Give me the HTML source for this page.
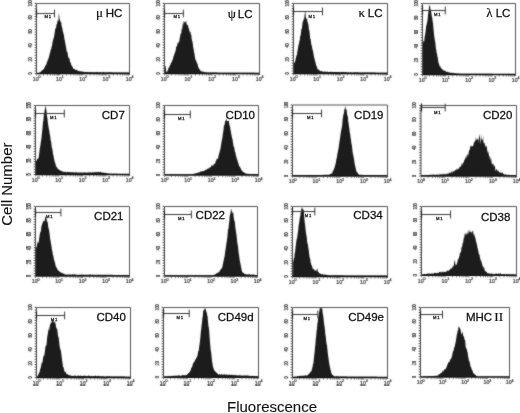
<!DOCTYPE html>
<html><head><meta charset="utf-8"><style>
html,body{margin:0;padding:0;background:#fff;}
body{width:520px;height:413px;overflow:hidden;}
svg{display:block;filter:grayscale(1);}
.s{font-family:"Liberation Sans",sans-serif;}
.r{font-family:"Liberation Serif",serif;}
</style></head><body>
<svg width="520" height="413" viewBox="0 0 520 413">
<defs><filter id="bl" x="0" y="0" width="1" height="1"><feConvolveMatrix order="3" kernelMatrix="1 2 1 2 16 2 1 2 1" divisor="28" edgeMode="duplicate"/></filter></defs>
<rect width="520" height="413" fill="#fff"/>
<g filter="url(#bl)">

<path d="M38,73.5 L38,73.2 L38.4,73.06 L38.8,72.92 L39.2,72.78 L39.6,72.64 L40,72.5 L40.4,72.06 L40.8,71.8 L41.2,71.25 L41.6,70.83 L42,70.27 L42.4,70.04 L42.8,70.01 L43.2,69.42 L43.6,69.22 L44,68.5 L44.4,67.83 L44.8,67.04 L45.2,65.61 L45.6,65.87 L46,65.02 L46.4,64.3 L46.8,62.59 L47.2,61.54 L47.6,60.67 L48,59.61 L48.4,58.77 L48.8,57.32 L49.2,56.31 L49.6,54 L50,53 L50.4,51.46 L50.8,49.14 L51.2,49.23 L51.6,46.83 L52,45.75 L52.4,42.77 L52.8,41.08 L53.2,39.8 L53.6,38.29 L54,36.83 L54.4,34.41 L54.8,31.68 L55.2,29.1 L55.6,28 L56,28.18 L56.4,24.7 L56.8,24.25 L57.2,22.93 L57.6,20.02 L58,20.64 L58.4,21 L58.8,13.13 L59.2,14.97 L59.6,19.49 L60,19.55 L60.4,21.71 L60.8,21.94 L61.2,22.01 L61.6,25.8 L62,27.12 L62.4,28.86 L62.8,31.13 L63.2,32.25 L63.6,34.18 L64,35.09 L64.4,38.88 L64.8,40.18 L65.2,42.7 L65.6,44.48 L66,47.11 L66.4,49.34 L66.8,51.98 L67.2,51.2 L67.6,53.02 L68,55.49 L68.4,57.54 L68.8,58.23 L69.2,58.07 L69.6,59 L70,61.68 L70.4,62.36 L70.8,63.06 L71.2,64.73 L71.6,65.51 L72,65.86 L72.4,66.64 L72.8,67.45 L73.2,68.57 L73.6,68.84 L74,69 L74.4,69.2 L74.8,68.77 L75.2,69.8 L75.6,69.89 L76,69.97 L76.4,69.49 L76.8,70.05 L77.2,70.62 L77.6,70.17 L78,70.76 L78.4,71.1 L78.8,70.64 L79.2,71.37 L79.6,71.2 L80,71.11 L80.4,71.28 L80.8,71.42 L81.2,71.37 L81.6,71.65 L82,71.35 L82.4,71.47 L82.8,71.83 L83.2,71.7 L83.6,71.59 L84,72 L84.4,72.16 L84.8,71.89 L85.2,71.76 L85.6,71.98 L86,71.99 L86.4,71.97 L86.8,72.27 L87.2,71.85 L87.6,72.25 L88,71.82 L88.4,71.91 L88.8,72.16 L89.2,72.25 L89.6,72.21 L90,72.13 L90.4,72.1 L90.8,72.1 L91.2,72.18 L91.6,72.06 L92,72.14 L92.4,72.2 L92.8,72.11 L93.2,72.24 L93.6,72.21 L94,72.46 L94.4,72.18 L94.8,72.06 L95.2,72.08 L95.6,72.14 L96,72.3 L96.4,72.1 L96.8,72.22 L97.2,72.47 L97.6,71.75 L98,71.99 L98.4,72.22 L98.8,72.25 L99.2,72.23 L99.6,72.13 L100,72.31 L100.4,72.26 L100.8,72.13 L101.2,72.61 L101.6,72.28 L102,72.14 L102.4,72.22 L102.8,72.21 L103.2,72.24 L103.6,71.82 L104,72.18 L104.4,72.42 L104.8,72.09 L105.2,72.26 L105.6,72.43 L106,72.42 L106.4,72.53 L106.8,72.03 L107.2,72.3 L107.6,72.31 L108,72.31 L108.4,72.32 L108.8,72.32 L109.2,72.33 L109.6,72.34 L110,72.34 L110.4,72.35 L110.8,72.35 L111.2,72.36 L111.6,72.36 L112,72.37 L112.4,72.37 L112.8,72.38 L113.2,72.38 L113.6,72.39 L114,72.4 L114.4,72.4 L114.8,72.41 L115.2,72.41 L115.6,72.42 L116,72.42 L116.4,72.43 L116.8,72.43 L117.2,72.44 L117.6,72.44 L118,72.45 L118.4,72.46 L118.8,72.46 L119.2,72.47 L119.6,72.47 L120,72.48 L120.4,72.48 L120.8,72.49 L121.2,72.49 L121.6,72.5 L122,72.5 L122.4,72.51 L122.8,72.52 L123.2,72.52 L123.6,72.53 L124,72.53 L124.4,72.54 L124.8,72.54 L125.2,72.55 L125.6,72.55 L126,72.56 L126.4,72.56 L126.8,72.57 L127.2,72.58 L127.6,72.58 L128,72.59 L128.4,72.59 L128.8,72.6 L129,72.6 L129,73.5 Z" fill="#1f1f1f"/>
<path d="M36.5,3.5 H129.5 V75" fill="none" stroke="#555" stroke-width="1"/>
<line x1="36.5" y1="3.5" x2="36.5" y2="73.5" stroke="#4a4a4a" stroke-width="1"/>
<line x1="36.5" y1="73.5" x2="129.5" y2="73.5" stroke="#111" stroke-width="1.3"/>
<path d="M36.3,3.5 h-1.6 M36.3,6.09 h-1.6 M36.3,8.69 h-1.6 M36.3,11.28 h-1.6 M36.3,13.87 h-1.6 M36.3,16.46 h-1.6 M36.3,19.06 h-1.6 M36.3,21.65 h-1.6 M36.3,24.24 h-1.6 M36.3,26.83 h-1.6 M36.3,29.43 h-1.6 M36.3,32.02 h-1.6 M36.3,34.61 h-1.6 M36.3,37.2 h-1.6 M36.3,39.8 h-1.6 M36.3,42.39 h-1.6 M36.3,44.98 h-1.6 M36.3,47.57 h-1.6 M36.3,50.17 h-1.6 M36.3,52.76 h-1.6 M36.3,55.35 h-1.6 M36.3,57.94 h-1.6 M36.3,60.54 h-1.6 M36.3,63.13 h-1.6 M36.3,65.72 h-1.6 M36.3,68.31 h-1.6 M36.3,70.91 h-1.6 M36.3,73.5 h-1.6" stroke="#3a3a3a" stroke-width="0.9" fill="none"/>
<path d="M36.5,74 v1.6 M43.5,74 v1.6 M47.59,74 v1.6 M50.5,74 v1.6 M52.75,74 v1.6 M54.59,74 v1.6 M56.15,74 v1.6 M57.5,74 v1.6 M58.69,74 v1.6 M59.75,74 v1.6 M66.75,74 v1.6 M70.84,74 v1.6 M73.75,74 v1.6 M76,74 v1.6 M77.84,74 v1.6 M79.4,74 v1.6 M80.75,74 v1.6 M81.94,74 v1.6 M83,74 v1.6 M90,74 v1.6 M94.09,74 v1.6 M97,74 v1.6 M99.25,74 v1.6 M101.09,74 v1.6 M102.65,74 v1.6 M104,74 v1.6 M105.19,74 v1.6 M106.25,74 v1.6 M113.25,74 v1.6 M117.34,74 v1.6 M120.25,74 v1.6 M122.5,74 v1.6 M124.34,74 v1.6 M125.9,74 v1.6 M127.25,74 v1.6 M128.44,74 v1.6" stroke="#444" stroke-width="0.7" fill="none"/>
<text class="s" x="0" y="0" font-size="4.7" fill="#2e2e2e" stroke="#2e2e2e" stroke-width="0.2" text-anchor="middle" transform="translate(31.8,73.5) rotate(-90) scale(0.78,1)">0</text>
<text class="s" x="0" y="0" font-size="4.7" fill="#2e2e2e" stroke="#2e2e2e" stroke-width="0.2" text-anchor="middle" transform="translate(31.8,59.5) rotate(-90) scale(0.78,1)">20</text>
<text class="s" x="0" y="0" font-size="4.7" fill="#2e2e2e" stroke="#2e2e2e" stroke-width="0.2" text-anchor="middle" transform="translate(31.8,45.5) rotate(-90) scale(0.78,1)">40</text>
<text class="s" x="0" y="0" font-size="4.7" fill="#2e2e2e" stroke="#2e2e2e" stroke-width="0.2" text-anchor="middle" transform="translate(31.8,31.5) rotate(-90) scale(0.78,1)">60</text>
<text class="s" x="0" y="0" font-size="4.7" fill="#2e2e2e" stroke="#2e2e2e" stroke-width="0.2" text-anchor="middle" transform="translate(31.8,17.5) rotate(-90) scale(0.78,1)">80</text>
<text class="s" x="0" y="0" font-size="4.7" fill="#2e2e2e" stroke="#2e2e2e" stroke-width="0.2" text-anchor="middle" transform="translate(31.8,3.5) rotate(-90) scale(0.78,1)">100</text>
<text class="s" x="36.7" y="80.7" font-size="5.2" fill="#2e2e2e" stroke="#2e2e2e" stroke-width="0.2" text-anchor="middle">10<tspan font-size="3.6" dy="-2.4">0</tspan></text>
<text class="s" x="59.95" y="80.7" font-size="5.2" fill="#2e2e2e" stroke="#2e2e2e" stroke-width="0.2" text-anchor="middle">10<tspan font-size="3.6" dy="-2.4">1</tspan></text>
<text class="s" x="83.2" y="80.7" font-size="5.2" fill="#2e2e2e" stroke="#2e2e2e" stroke-width="0.2" text-anchor="middle">10<tspan font-size="3.6" dy="-2.4">2</tspan></text>
<text class="s" x="106.45" y="80.7" font-size="5.2" fill="#2e2e2e" stroke="#2e2e2e" stroke-width="0.2" text-anchor="middle">10<tspan font-size="3.6" dy="-2.4">3</tspan></text>
<text class="s" x="129.7" y="80.7" font-size="5.2" fill="#2e2e2e" stroke="#2e2e2e" stroke-width="0.2" text-anchor="middle">10<tspan font-size="3.6" dy="-2.4">4</tspan></text>
<path d="M36.5,13.5 H54.5 M54.5,9.6 v7.8" stroke="#3a3a3a" stroke-width="1" fill="none"/>
<path d="M36.5,9.5 v8" stroke="#222" stroke-width="1.2" fill="none"/>
<path d="M164.5,73.5 L164.5,73.3 L164.9,67.3 L165.3,65.82 L165.7,66.32 L166.1,70.58 L166.5,72.67 L166.9,71.38 L167.3,71.64 L167.7,69.99 L168.1,69.66 L168.5,67.74 L168.9,67.6 L169.3,67.25 L169.7,65.72 L170.1,65.04 L170.5,64.54 L170.9,63.3 L171.3,62.18 L171.7,62.24 L172.1,60.93 L172.5,58.98 L172.9,60.22 L173.3,56.28 L173.7,56.81 L174.1,54.63 L174.5,53.72 L174.9,52.98 L175.3,51.32 L175.7,50.47 L176.1,47.2 L176.5,45.94 L176.9,46.95 L177.3,44.3 L177.7,43.16 L178.1,41.61 L178.5,43.43 L178.9,41.83 L179.3,41.58 L179.7,37.85 L180.1,36.93 L180.5,33.61 L180.9,33.9 L181.3,32.97 L181.7,28.16 L182.1,29.57 L182.5,26.25 L182.9,22.3 L183.3,20.87 L183.7,25.49 L184.1,22.67 L184.5,21.18 L184.9,22.12 L185.3,21.7 L185.7,22.77 L186.1,19.77 L186.5,23.48 L186.9,24.77 L187.3,25.75 L187.7,24.62 L188.1,24.94 L188.5,28.35 L188.9,28.5 L189.3,29.84 L189.7,32.77 L190.1,32.04 L190.5,31.07 L190.9,34.81 L191.3,34.59 L191.7,39.1 L192.1,40.39 L192.5,41.66 L192.9,44.58 L193.3,47.68 L193.7,49.19 L194.1,52.54 L194.5,53.55 L194.9,56.67 L195.3,58.63 L195.7,60.13 L196.1,59.97 L196.5,62.47 L196.9,62.13 L197.3,63.71 L197.7,64.34 L198.1,67 L198.5,66.96 L198.9,68.59 L199.3,68.98 L199.7,69.5 L200.1,69.76 L200.5,70.51 L200.9,71.44 L201.3,71.11 L201.7,71.38 L202.1,71.64 L202.5,71.43 L202.9,71.29 L203.3,71.61 L203.7,72.14 L204.1,71.63 L204.5,72.01 L204.9,72.48 L205.3,72.31 L205.7,72.32 L206.1,72.34 L206.5,72.35 L206.9,72.37 L207.3,72.38 L207.7,72.4 L208.1,72.41 L208.5,72.42 L208.9,72.44 L209.3,72.45 L209.7,72.47 L210.1,72.48 L210.5,72.49 L210.9,72.51 L211.3,72.52 L211.7,72.54 L212.1,72.55 L212.5,72.56 L212.9,72.58 L213.3,72.59 L213.7,72.6 L214.1,72.6 L214.5,72.61 L214.9,72.61 L215.3,72.61 L215.7,72.61 L216.1,72.62 L216.5,72.62 L216.9,72.62 L217.3,72.63 L217.7,72.63 L218.1,72.63 L218.5,72.63 L218.9,72.64 L219.3,72.64 L219.7,72.64 L220.1,72.64 L220.5,72.65 L220.9,72.65 L221.3,72.65 L221.7,72.65 L222.1,72.66 L222.5,72.66 L222.9,72.66 L223.3,72.66 L223.7,72.67 L224.1,72.67 L224.5,72.67 L224.9,72.68 L225.3,72.68 L225.7,72.68 L226.1,72.68 L226.5,72.69 L226.9,72.69 L227.3,72.69 L227.7,72.69 L228.1,72.7 L228.5,72.7 L228.9,72.7 L229.3,72.7 L229.7,72.71 L230.1,72.71 L230.5,72.71 L230.9,72.71 L231.3,72.72 L231.7,72.72 L232.1,72.72 L232.5,72.73 L232.9,72.73 L233.3,72.73 L233.7,72.73 L234.1,72.74 L234.5,72.74 L234.9,72.74 L235.3,72.74 L235.7,72.75 L236.1,72.75 L236.5,72.75 L236.9,72.75 L237.3,72.76 L237.7,72.76 L238.1,72.76 L238.5,72.76 L238.9,72.77 L239.3,72.77 L239.7,72.77 L240.1,72.78 L240.5,72.78 L240.9,72.78 L241.3,72.78 L241.7,72.79 L242.1,72.79 L242.5,72.79 L242.9,72.79 L243.3,72.8 L243.7,72.8 L244.1,72.8 L244.5,72.8 L244.9,72.81 L245.3,72.81 L245.7,72.81 L246.1,72.81 L246.5,72.82 L246.9,72.82 L247.3,72.82 L247.7,72.83 L248.1,72.83 L248.5,72.83 L248.9,72.83 L249.3,72.84 L249.7,72.84 L250.1,72.84 L250.5,72.84 L250.9,72.85 L251.3,72.85 L251.7,72.85 L252.1,72.85 L252.5,72.86 L252.9,72.86 L253.3,72.86 L253.7,72.87 L254.1,72.87 L254.5,72.87 L254.9,72.87 L255.3,72.88 L255.7,72.88 L256.1,72.88 L256.5,72.88 L256.9,72.89 L257.3,72.89 L257.7,72.89 L258.1,72.89 L258.5,72.9 L258.9,72.9 L259,72.9 L259,73.5 Z" fill="#1f1f1f"/>
<path d="M164.5,3.5 H259.5 V75" fill="none" stroke="#555" stroke-width="1"/>
<line x1="164.5" y1="3.5" x2="164.5" y2="73.5" stroke="#4a4a4a" stroke-width="1"/>
<line x1="164.5" y1="73.5" x2="259.5" y2="73.5" stroke="#111" stroke-width="1.3"/>
<path d="M164.3,3.5 h-1.6 M164.3,6.09 h-1.6 M164.3,8.69 h-1.6 M164.3,11.28 h-1.6 M164.3,13.87 h-1.6 M164.3,16.46 h-1.6 M164.3,19.06 h-1.6 M164.3,21.65 h-1.6 M164.3,24.24 h-1.6 M164.3,26.83 h-1.6 M164.3,29.43 h-1.6 M164.3,32.02 h-1.6 M164.3,34.61 h-1.6 M164.3,37.2 h-1.6 M164.3,39.8 h-1.6 M164.3,42.39 h-1.6 M164.3,44.98 h-1.6 M164.3,47.57 h-1.6 M164.3,50.17 h-1.6 M164.3,52.76 h-1.6 M164.3,55.35 h-1.6 M164.3,57.94 h-1.6 M164.3,60.54 h-1.6 M164.3,63.13 h-1.6 M164.3,65.72 h-1.6 M164.3,68.31 h-1.6 M164.3,70.91 h-1.6 M164.3,73.5 h-1.6" stroke="#3a3a3a" stroke-width="0.9" fill="none"/>
<path d="M164.5,74 v1.6 M171.65,74 v1.6 M175.83,74 v1.6 M178.8,74 v1.6 M181.1,74 v1.6 M182.98,74 v1.6 M184.57,74 v1.6 M185.95,74 v1.6 M187.16,74 v1.6 M188.25,74 v1.6 M195.4,74 v1.6 M199.58,74 v1.6 M202.55,74 v1.6 M204.85,74 v1.6 M206.73,74 v1.6 M208.32,74 v1.6 M209.7,74 v1.6 M210.91,74 v1.6 M212,74 v1.6 M219.15,74 v1.6 M223.33,74 v1.6 M226.3,74 v1.6 M228.6,74 v1.6 M230.48,74 v1.6 M232.07,74 v1.6 M233.45,74 v1.6 M234.66,74 v1.6 M235.75,74 v1.6 M242.9,74 v1.6 M247.08,74 v1.6 M250.05,74 v1.6 M252.35,74 v1.6 M254.23,74 v1.6 M255.82,74 v1.6 M257.2,74 v1.6 M258.41,74 v1.6" stroke="#444" stroke-width="0.7" fill="none"/>
<text class="s" x="0" y="0" font-size="4.7" fill="#2e2e2e" stroke="#2e2e2e" stroke-width="0.2" text-anchor="middle" transform="translate(159.8,73.5) rotate(-90) scale(0.78,1)">0</text>
<text class="s" x="0" y="0" font-size="4.7" fill="#2e2e2e" stroke="#2e2e2e" stroke-width="0.2" text-anchor="middle" transform="translate(159.8,59.5) rotate(-90) scale(0.78,1)">20</text>
<text class="s" x="0" y="0" font-size="4.7" fill="#2e2e2e" stroke="#2e2e2e" stroke-width="0.2" text-anchor="middle" transform="translate(159.8,45.5) rotate(-90) scale(0.78,1)">40</text>
<text class="s" x="0" y="0" font-size="4.7" fill="#2e2e2e" stroke="#2e2e2e" stroke-width="0.2" text-anchor="middle" transform="translate(159.8,31.5) rotate(-90) scale(0.78,1)">60</text>
<text class="s" x="0" y="0" font-size="4.7" fill="#2e2e2e" stroke="#2e2e2e" stroke-width="0.2" text-anchor="middle" transform="translate(159.8,17.5) rotate(-90) scale(0.78,1)">80</text>
<text class="s" x="0" y="0" font-size="4.7" fill="#2e2e2e" stroke="#2e2e2e" stroke-width="0.2" text-anchor="middle" transform="translate(159.8,3.5) rotate(-90) scale(0.78,1)">100</text>
<text class="s" x="164.7" y="80.7" font-size="5.2" fill="#2e2e2e" stroke="#2e2e2e" stroke-width="0.2" text-anchor="middle">10<tspan font-size="3.6" dy="-2.4">0</tspan></text>
<text class="s" x="188.45" y="80.7" font-size="5.2" fill="#2e2e2e" stroke="#2e2e2e" stroke-width="0.2" text-anchor="middle">10<tspan font-size="3.6" dy="-2.4">1</tspan></text>
<text class="s" x="212.2" y="80.7" font-size="5.2" fill="#2e2e2e" stroke="#2e2e2e" stroke-width="0.2" text-anchor="middle">10<tspan font-size="3.6" dy="-2.4">2</tspan></text>
<text class="s" x="235.95" y="80.7" font-size="5.2" fill="#2e2e2e" stroke="#2e2e2e" stroke-width="0.2" text-anchor="middle">10<tspan font-size="3.6" dy="-2.4">3</tspan></text>
<text class="s" x="259.7" y="80.7" font-size="5.2" fill="#2e2e2e" stroke="#2e2e2e" stroke-width="0.2" text-anchor="middle">10<tspan font-size="3.6" dy="-2.4">4</tspan></text>
<path d="M164.5,13.5 H183.4 M183.4,9.6 v7.8" stroke="#3a3a3a" stroke-width="1" fill="none"/>
<path d="M164.5,9.5 v8" stroke="#222" stroke-width="1.2" fill="none"/>
<path d="M293.8,73.5 L293.8,63 L294.2,63.12 L294.6,62.5 L295,61.79 L295.4,60.36 L295.8,58.28 L296.2,56.59 L296.6,55.5 L297,54.37 L297.4,51.32 L297.8,48.98 L298.2,46.96 L298.6,44.42 L299,43.57 L299.4,40.81 L299.8,40.15 L300.2,35.7 L300.6,35.63 L301,32.39 L301.4,28.78 L301.8,29.1 L302.2,26.01 L302.6,21.93 L303,21.14 L303.4,20.8 L303.8,18.69 L304.2,18.66 L304.6,15.28 L305,11.18 L305.4,11.04 L305.8,16.67 L306.2,18.64 L306.6,19.31 L307,17.55 L307.4,21.54 L307.8,22.84 L308.2,23.63 L308.6,25.9 L309,30.63 L309.4,29.75 L309.8,34.53 L310.2,38.93 L310.6,38.63 L311,41.98 L311.4,44.92 L311.8,45.38 L312.2,47.9 L312.6,50.11 L313,50.85 L313.4,53.38 L313.8,55.59 L314.2,57.75 L314.6,59.02 L315,60.7 L315.4,62.08 L315.8,63.73 L316.2,65.43 L316.6,66.28 L317,67.12 L317.4,68.33 L317.8,69.75 L318.2,69.61 L318.6,69.79 L319,69.26 L319.4,70.45 L319.8,70.75 L320.2,71.24 L320.6,71.06 L321,71.05 L321.4,71.29 L321.8,70.87 L322.2,71.6 L322.6,71.56 L323,71.46 L323.4,71.87 L323.8,71.98 L324.2,71.37 L324.6,71.53 L325,71.73 L325.4,71.73 L325.8,71.63 L326.2,71.54 L326.6,72.14 L327,71.95 L327.4,71.55 L327.8,71.54 L328.2,72.12 L328.6,72 L329,72.17 L329.4,72 L329.8,71.71 L330.2,71.93 L330.6,71.51 L331,71.78 L331.4,71.92 L331.8,72.03 L332.2,71.83 L332.6,71.95 L333,72.07 L333.4,72.07 L333.8,72.12 L334.2,72.05 L334.6,71.96 L335,72.16 L335.4,72.04 L335.8,71.9 L336.2,71.94 L336.6,72.05 L337,72.04 L337.4,72.09 L337.8,72.07 L338.2,72.1 L338.6,72.06 L339,71.87 L339.4,72.16 L339.8,72.27 L340.2,72.18 L340.6,72.08 L341,72.19 L341.4,71.96 L341.8,71.81 L342.2,72.14 L342.6,71.98 L343,72.27 L343.4,71.97 L343.8,71.72 L344.2,71.99 L344.6,72.43 L345,72.11 L345.4,71.96 L345.8,72.06 L346.2,72.28 L346.6,72.28 L347,72.23 L347.4,72.45 L347.8,72.33 L348.2,72.22 L348.6,72.32 L349,72.5 L349.4,72.4 L349.8,72.41 L350.2,72.08 L350.6,72.23 L351,72.38 L351.4,72.22 L351.8,72.44 L352.2,72.38 L352.6,72.43 L353,72.26 L353.4,72.7 L353.8,72.31 L354.2,72.31 L354.6,72.32 L355,72.32 L355.4,72.33 L355.8,72.34 L356.2,72.34 L356.6,72.35 L357,72.35 L357.4,72.36 L357.8,72.36 L358.2,72.37 L358.6,72.38 L359,72.38 L359.4,72.39 L359.8,72.39 L360.2,72.4 L360.6,72.41 L361,72.41 L361.4,72.42 L361.8,72.42 L362.2,72.43 L362.6,72.44 L363,72.44 L363.4,72.45 L363.8,72.45 L364.2,72.46 L364.6,72.47 L365,72.47 L365.4,72.48 L365.8,72.48 L366.2,72.49 L366.6,72.5 L367,72.5 L367.4,72.51 L367.8,72.51 L368.2,72.52 L368.6,72.53 L369,72.53 L369.4,72.54 L369.8,72.54 L370.2,72.55 L370.6,72.56 L371,72.56 L371.4,72.57 L371.8,72.57 L372.2,72.58 L372.6,72.59 L373,72.59 L373.4,72.6 L373.8,72.6 L374.2,72.61 L374.6,72.62 L375,72.62 L375.4,72.63 L375.8,72.63 L376.2,72.64 L376.6,72.65 L377,72.65 L377.4,72.66 L377.8,72.66 L378.2,72.67 L378.6,72.67 L379,72.68 L379.4,72.69 L379.8,72.69 L380.2,72.7 L380.6,72.7 L381,72.71 L381.4,72.72 L381.8,72.72 L382.2,72.73 L382.6,72.73 L383,72.74 L383.4,72.75 L383.8,72.75 L384.2,72.76 L384.6,72.76 L385,72.77 L385.4,72.78 L385.8,72.78 L386.2,72.79 L386.6,72.79 L387,72.8 L387,72.8 L387,73.5 Z" fill="#1f1f1f"/>
<path d="M293.5,3.5 H387.5 V75" fill="none" stroke="#555" stroke-width="1"/>
<line x1="293.5" y1="3.5" x2="293.5" y2="73.5" stroke="#4a4a4a" stroke-width="1"/>
<line x1="293.5" y1="73.5" x2="387.5" y2="73.5" stroke="#111" stroke-width="1.3"/>
<path d="M293.3,3.5 h-1.6 M293.3,6.09 h-1.6 M293.3,8.69 h-1.6 M293.3,11.28 h-1.6 M293.3,13.87 h-1.6 M293.3,16.46 h-1.6 M293.3,19.06 h-1.6 M293.3,21.65 h-1.6 M293.3,24.24 h-1.6 M293.3,26.83 h-1.6 M293.3,29.43 h-1.6 M293.3,32.02 h-1.6 M293.3,34.61 h-1.6 M293.3,37.2 h-1.6 M293.3,39.8 h-1.6 M293.3,42.39 h-1.6 M293.3,44.98 h-1.6 M293.3,47.57 h-1.6 M293.3,50.17 h-1.6 M293.3,52.76 h-1.6 M293.3,55.35 h-1.6 M293.3,57.94 h-1.6 M293.3,60.54 h-1.6 M293.3,63.13 h-1.6 M293.3,65.72 h-1.6 M293.3,68.31 h-1.6 M293.3,70.91 h-1.6 M293.3,73.5 h-1.6" stroke="#3a3a3a" stroke-width="0.9" fill="none"/>
<path d="M293.5,74 v1.6 M300.57,74 v1.6 M304.71,74 v1.6 M307.65,74 v1.6 M309.93,74 v1.6 M311.79,74 v1.6 M313.36,74 v1.6 M314.72,74 v1.6 M315.92,74 v1.6 M317,74 v1.6 M324.07,74 v1.6 M328.21,74 v1.6 M331.15,74 v1.6 M333.43,74 v1.6 M335.29,74 v1.6 M336.86,74 v1.6 M338.22,74 v1.6 M339.42,74 v1.6 M340.5,74 v1.6 M347.57,74 v1.6 M351.71,74 v1.6 M354.65,74 v1.6 M356.93,74 v1.6 M358.79,74 v1.6 M360.36,74 v1.6 M361.72,74 v1.6 M362.92,74 v1.6 M364,74 v1.6 M371.07,74 v1.6 M375.21,74 v1.6 M378.15,74 v1.6 M380.43,74 v1.6 M382.29,74 v1.6 M383.86,74 v1.6 M385.22,74 v1.6 M386.42,74 v1.6" stroke="#444" stroke-width="0.7" fill="none"/>
<text class="s" x="0" y="0" font-size="4.7" fill="#2e2e2e" stroke="#2e2e2e" stroke-width="0.2" text-anchor="middle" transform="translate(288.8,73.5) rotate(-90) scale(0.78,1)">0</text>
<text class="s" x="0" y="0" font-size="4.7" fill="#2e2e2e" stroke="#2e2e2e" stroke-width="0.2" text-anchor="middle" transform="translate(288.8,59.5) rotate(-90) scale(0.78,1)">20</text>
<text class="s" x="0" y="0" font-size="4.7" fill="#2e2e2e" stroke="#2e2e2e" stroke-width="0.2" text-anchor="middle" transform="translate(288.8,45.5) rotate(-90) scale(0.78,1)">40</text>
<text class="s" x="0" y="0" font-size="4.7" fill="#2e2e2e" stroke="#2e2e2e" stroke-width="0.2" text-anchor="middle" transform="translate(288.8,31.5) rotate(-90) scale(0.78,1)">60</text>
<text class="s" x="0" y="0" font-size="4.7" fill="#2e2e2e" stroke="#2e2e2e" stroke-width="0.2" text-anchor="middle" transform="translate(288.8,17.5) rotate(-90) scale(0.78,1)">80</text>
<text class="s" x="0" y="0" font-size="4.7" fill="#2e2e2e" stroke="#2e2e2e" stroke-width="0.2" text-anchor="middle" transform="translate(288.8,3.5) rotate(-90) scale(0.78,1)">100</text>
<text class="s" x="293.7" y="80.7" font-size="5.2" fill="#2e2e2e" stroke="#2e2e2e" stroke-width="0.2" text-anchor="middle">10<tspan font-size="3.6" dy="-2.4">0</tspan></text>
<text class="s" x="317.2" y="80.7" font-size="5.2" fill="#2e2e2e" stroke="#2e2e2e" stroke-width="0.2" text-anchor="middle">10<tspan font-size="3.6" dy="-2.4">1</tspan></text>
<text class="s" x="340.7" y="80.7" font-size="5.2" fill="#2e2e2e" stroke="#2e2e2e" stroke-width="0.2" text-anchor="middle">10<tspan font-size="3.6" dy="-2.4">2</tspan></text>
<text class="s" x="364.2" y="80.7" font-size="5.2" fill="#2e2e2e" stroke="#2e2e2e" stroke-width="0.2" text-anchor="middle">10<tspan font-size="3.6" dy="-2.4">3</tspan></text>
<text class="s" x="387.7" y="80.7" font-size="5.2" fill="#2e2e2e" stroke="#2e2e2e" stroke-width="0.2" text-anchor="middle">10<tspan font-size="3.6" dy="-2.4">4</tspan></text>
<path d="M293.5,11.5 H322.5 M322.5,7.6 v7.8" stroke="#3a3a3a" stroke-width="1" fill="none"/>
<path d="M293.5,7.5 v8" stroke="#222" stroke-width="1.2" fill="none"/>
<path d="M422.6,74.5 L422.6,43.5 L423,43.5 L423.4,41.32 L423.8,40.58 L424.2,41.68 L424.6,36.68 L425,35.25 L425.4,32.86 L425.8,29.44 L426.2,25.88 L426.6,24.84 L427,22.64 L427.4,21.09 L427.8,17.39 L428.2,13.22 L428.6,10.82 L429,7.68 L429.4,4.7 L429.8,5.43 L430.2,7.16 L430.6,10.36 L431,10.68 L431.4,13.47 L431.8,16.46 L432.2,17.2 L432.6,21.15 L433,23 L433.4,27.76 L433.8,32.36 L434.2,35.75 L434.6,38.42 L435,40.92 L435.4,42.65 L435.8,47.8 L436.2,49.44 L436.6,52.46 L437,53.81 L437.4,56.58 L437.8,57.64 L438.2,61.06 L438.6,63.08 L439,63.75 L439.4,65.36 L439.8,66.42 L440.2,66.25 L440.6,67.04 L441,68.13 L441.4,68.53 L441.8,68.51 L442.2,69.23 L442.6,69.54 L443,69.9 L443.4,70.15 L443.8,70.64 L444.2,70.8 L444.6,70.37 L445,70.87 L445.4,71 L445.8,71.27 L446.2,71.78 L446.6,71.88 L447,72.08 L447.4,71.69 L447.8,71.86 L448.2,72.21 L448.6,72.25 L449,72.31 L449.4,72.45 L449.8,72.39 L450.2,72.76 L450.6,72.78 L451,72.78 L451.4,72.75 L451.8,72.93 L452.2,72.55 L452.6,72.88 L453,73.09 L453.4,72.87 L453.8,73.19 L454.2,73.22 L454.6,73.01 L455,73.22 L455.4,73.25 L455.8,73.33 L456.2,73.37 L456.6,73.4 L457,73.44 L457.4,73.47 L457.8,73.51 L458.2,73.54 L458.6,73.58 L459,73.61 L459.4,73.65 L459.8,73.68 L460.2,73.7 L460.6,73.7 L461,73.71 L461.4,73.71 L461.8,73.71 L462.2,73.71 L462.6,73.71 L463,73.72 L463.4,73.72 L463.8,73.72 L464.2,73.72 L464.6,73.72 L465,73.73 L465.4,73.73 L465.8,73.73 L466.2,73.73 L466.6,73.74 L467,73.74 L467.4,73.74 L467.8,73.74 L468.2,73.74 L468.6,73.75 L469,73.75 L469.4,73.75 L469.8,73.75 L470.2,73.76 L470.6,73.76 L471,73.76 L471.4,73.76 L471.8,73.76 L472.2,73.77 L472.6,73.77 L473,73.77 L473.4,73.77 L473.8,73.77 L474.2,73.78 L474.6,73.78 L475,73.78 L475.4,73.78 L475.8,73.79 L476.2,73.79 L476.6,73.79 L477,73.79 L477.4,73.79 L477.8,73.8 L478.2,73.8 L478.6,73.8 L479,73.8 L479.4,73.8 L479.8,73.81 L480.2,73.81 L480.6,73.81 L481,73.81 L481.4,73.82 L481.8,73.82 L482.2,73.82 L482.6,73.82 L483,73.82 L483.4,73.83 L483.8,73.83 L484.2,73.83 L484.6,73.83 L485,73.84 L485.4,73.84 L485.8,73.84 L486.2,73.84 L486.6,73.84 L487,73.85 L487.4,73.85 L487.8,73.85 L488.2,73.85 L488.6,73.85 L489,73.86 L489.4,73.86 L489.8,73.86 L490.2,73.86 L490.6,73.87 L491,73.87 L491.4,73.87 L491.8,73.87 L492.2,73.87 L492.6,73.88 L493,73.88 L493.4,73.88 L493.8,73.88 L494.2,73.88 L494.6,73.89 L495,73.89 L495.4,73.89 L495.8,73.89 L496.2,73.9 L496.6,73.9 L497,73.9 L497.4,73.9 L497.8,73.9 L498.2,73.91 L498.6,73.91 L499,73.91 L499.4,73.91 L499.8,73.92 L500.2,73.92 L500.6,73.92 L501,73.92 L501.4,73.92 L501.8,73.93 L502.2,73.93 L502.6,73.93 L503,73.93 L503.4,73.93 L503.8,73.94 L504.2,73.94 L504.6,73.94 L505,73.94 L505.4,73.95 L505.8,73.95 L506.2,73.95 L506.6,73.95 L507,73.95 L507.4,73.96 L507.8,73.96 L508.2,73.96 L508.6,73.96 L509,73.96 L509.4,73.97 L509.8,73.97 L510.2,73.97 L510.6,73.97 L511,73.98 L511.4,73.98 L511.8,73.98 L512.2,73.98 L512.6,73.98 L513,73.99 L513.4,73.99 L513.8,73.99 L514.2,73.99 L514.6,74 L515,74 L515.4,74 L515.5,74 L515.5,74.5 Z" fill="#1f1f1f"/>
<path d="M422.5,3.5 H515.5 V76" fill="none" stroke="#555" stroke-width="1"/>
<line x1="422.5" y1="3.5" x2="422.5" y2="74.5" stroke="#4a4a4a" stroke-width="1"/>
<line x1="422.5" y1="74.5" x2="515.5" y2="74.5" stroke="#111" stroke-width="1.3"/>
<path d="M422.3,3.5 h-1.6 M422.3,6.13 h-1.6 M422.3,8.76 h-1.6 M422.3,11.39 h-1.6 M422.3,14.02 h-1.6 M422.3,16.65 h-1.6 M422.3,19.28 h-1.6 M422.3,21.91 h-1.6 M422.3,24.54 h-1.6 M422.3,27.17 h-1.6 M422.3,29.8 h-1.6 M422.3,32.43 h-1.6 M422.3,35.06 h-1.6 M422.3,37.69 h-1.6 M422.3,40.31 h-1.6 M422.3,42.94 h-1.6 M422.3,45.57 h-1.6 M422.3,48.2 h-1.6 M422.3,50.83 h-1.6 M422.3,53.46 h-1.6 M422.3,56.09 h-1.6 M422.3,58.72 h-1.6 M422.3,61.35 h-1.6 M422.3,63.98 h-1.6 M422.3,66.61 h-1.6 M422.3,69.24 h-1.6 M422.3,71.87 h-1.6 M422.3,74.5 h-1.6" stroke="#3a3a3a" stroke-width="0.9" fill="none"/>
<path d="M422.5,75 v1.6 M429.5,75 v1.6 M433.59,75 v1.6 M436.5,75 v1.6 M438.75,75 v1.6 M440.59,75 v1.6 M442.15,75 v1.6 M443.5,75 v1.6 M444.69,75 v1.6 M445.75,75 v1.6 M452.75,75 v1.6 M456.84,75 v1.6 M459.75,75 v1.6 M462,75 v1.6 M463.84,75 v1.6 M465.4,75 v1.6 M466.75,75 v1.6 M467.94,75 v1.6 M469,75 v1.6 M476,75 v1.6 M480.09,75 v1.6 M483,75 v1.6 M485.25,75 v1.6 M487.09,75 v1.6 M488.65,75 v1.6 M490,75 v1.6 M491.19,75 v1.6 M492.25,75 v1.6 M499.25,75 v1.6 M503.34,75 v1.6 M506.25,75 v1.6 M508.5,75 v1.6 M510.34,75 v1.6 M511.9,75 v1.6 M513.25,75 v1.6 M514.44,75 v1.6" stroke="#444" stroke-width="0.7" fill="none"/>
<text class="s" x="0" y="0" font-size="4.7" fill="#2e2e2e" stroke="#2e2e2e" stroke-width="0.2" text-anchor="middle" transform="translate(417.8,74.5) rotate(-90) scale(0.78,1)">0</text>
<text class="s" x="0" y="0" font-size="4.7" fill="#2e2e2e" stroke="#2e2e2e" stroke-width="0.2" text-anchor="middle" transform="translate(417.8,60.3) rotate(-90) scale(0.78,1)">20</text>
<text class="s" x="0" y="0" font-size="4.7" fill="#2e2e2e" stroke="#2e2e2e" stroke-width="0.2" text-anchor="middle" transform="translate(417.8,46.1) rotate(-90) scale(0.78,1)">40</text>
<text class="s" x="0" y="0" font-size="4.7" fill="#2e2e2e" stroke="#2e2e2e" stroke-width="0.2" text-anchor="middle" transform="translate(417.8,31.9) rotate(-90) scale(0.78,1)">60</text>
<text class="s" x="0" y="0" font-size="4.7" fill="#2e2e2e" stroke="#2e2e2e" stroke-width="0.2" text-anchor="middle" transform="translate(417.8,17.7) rotate(-90) scale(0.78,1)">80</text>
<text class="s" x="0" y="0" font-size="4.7" fill="#2e2e2e" stroke="#2e2e2e" stroke-width="0.2" text-anchor="middle" transform="translate(417.8,3.5) rotate(-90) scale(0.78,1)">100</text>
<text class="s" x="422.7" y="81.7" font-size="5.2" fill="#2e2e2e" stroke="#2e2e2e" stroke-width="0.2" text-anchor="middle">10<tspan font-size="3.6" dy="-2.4">0</tspan></text>
<text class="s" x="445.95" y="81.7" font-size="5.2" fill="#2e2e2e" stroke="#2e2e2e" stroke-width="0.2" text-anchor="middle">10<tspan font-size="3.6" dy="-2.4">1</tspan></text>
<text class="s" x="469.2" y="81.7" font-size="5.2" fill="#2e2e2e" stroke="#2e2e2e" stroke-width="0.2" text-anchor="middle">10<tspan font-size="3.6" dy="-2.4">2</tspan></text>
<text class="s" x="492.45" y="81.7" font-size="5.2" fill="#2e2e2e" stroke="#2e2e2e" stroke-width="0.2" text-anchor="middle">10<tspan font-size="3.6" dy="-2.4">3</tspan></text>
<text class="s" x="515.7" y="81.7" font-size="5.2" fill="#2e2e2e" stroke="#2e2e2e" stroke-width="0.2" text-anchor="middle">10<tspan font-size="3.6" dy="-2.4">4</tspan></text>
<path d="M422.5,10.5 H445.3 M445.3,6.6 v7.8" stroke="#3a3a3a" stroke-width="1" fill="none"/>
<path d="M422.5,6.5 v8" stroke="#222" stroke-width="1.2" fill="none"/>
<path d="M35.8,174.5 L35.8,161.2 L36.2,160.96 L36.6,160.57 L37,159.76 L37.4,158.86 L37.8,158.77 L38.2,158.24 L38.6,158.13 L39,155.11 L39.4,151.67 L39.8,148.42 L40.2,146.46 L40.6,143.64 L41,140.79 L41.4,138.72 L41.8,134.47 L42.2,131.1 L42.6,126.97 L43,121.47 L43.4,121.07 L43.8,114.95 L44.2,113.24 L44.6,110.14 L45,109.3 L45.4,106 L45.8,106.46 L46.2,109.28 L46.6,111.68 L47,116.39 L47.4,117.75 L47.8,122.33 L48.2,124.63 L48.6,127.38 L49,129.54 L49.4,131.48 L49.8,134.6 L50.2,135.71 L50.6,140.17 L51,140.69 L51.4,144.02 L51.8,147.73 L52.2,148.26 L52.6,150.75 L53,153.83 L53.4,155.4 L53.8,157.23 L54.2,159.44 L54.6,161.21 L55,162.85 L55.4,163.23 L55.8,165.47 L56.2,166.48 L56.6,166.75 L57,167.43 L57.4,167.75 L57.8,168.98 L58.2,168.83 L58.6,169.76 L59,169.58 L59.4,169.7 L59.8,170.31 L60.2,170.66 L60.6,170.45 L61,170.45 L61.4,171.04 L61.8,170.99 L62.2,171.21 L62.6,171.64 L63,171.66 L63.4,171.37 L63.8,172.18 L64.2,171.75 L64.6,172.06 L65,171.85 L65.4,172 L65.8,171.63 L66.2,172.44 L66.6,172.36 L67,171.79 L67.4,171.74 L67.8,171.73 L68.2,172.36 L68.6,172.02 L69,172.12 L69.4,172.07 L69.8,172.13 L70.2,171.93 L70.6,172.19 L71,171.88 L71.4,172.19 L71.8,172.29 L72.2,172.33 L72.6,172.2 L73,172.07 L73.4,172.31 L73.8,172.18 L74.2,172.63 L74.6,172.47 L75,172.3 L75.4,172.24 L75.8,172.2 L76.2,172.17 L76.6,172.3 L77,172.45 L77.4,172.51 L77.8,172.53 L78.2,172.86 L78.6,172.3 L79,172.46 L79.4,173.03 L79.8,172.1 L80.2,172.39 L80.6,172.54 L81,172.55 L81.4,172.61 L81.8,172.5 L82.2,172.63 L82.6,172.58 L83,172.74 L83.4,172.23 L83.8,172.42 L84.2,172.58 L84.6,172.36 L85,172.34 L85.4,172.66 L85.8,172.39 L86.2,172.63 L86.6,172.64 L87,172.54 L87.4,172.57 L87.8,172.43 L88.2,172.15 L88.6,172.42 L89,172.5 L89.4,172.29 L89.8,172.36 L90.2,172.52 L90.6,172.17 L91,172.47 L91.4,172.72 L91.8,172.19 L92.2,172.33 L92.6,172.25 L93,172.6 L93.4,172.32 L93.8,172.43 L94.2,172.08 L94.6,172.21 L95,172.2 L95.4,171.8 L95.8,172.48 L96.2,172.35 L96.6,171.75 L97,172.28 L97.4,172.08 L97.8,172.19 L98.2,172.15 L98.6,171.72 L99,171.99 L99.4,172.36 L99.8,171.88 L100.2,171.81 L100.6,171.81 L101,171.92 L101.4,172.32 L101.8,172.68 L102.2,172.48 L102.6,172.52 L103,172.98 L103.4,172.51 L103.8,172.55 L104.2,172.86 L104.6,172.93 L105,172.72 L105.4,172.77 L105.8,173.09 L106.2,173.16 L106.6,172.97 L107,173.23 L107.4,173.33 L107.8,173.4 L108.2,173.48 L108.6,173.55 L109,173.62 L109.4,173.69 L109.8,173.76 L110.2,173.8 L110.6,173.81 L111,173.81 L111.4,173.81 L111.8,173.82 L112.2,173.82 L112.6,173.83 L113,173.83 L113.4,173.83 L113.8,173.84 L114.2,173.84 L114.6,173.85 L115,173.85 L115.4,173.86 L115.8,173.86 L116.2,173.86 L116.6,173.87 L117,173.87 L117.4,173.88 L117.8,173.88 L118.2,173.88 L118.6,173.89 L119,173.89 L119.4,173.9 L119.8,173.9 L120.2,173.9 L120.6,173.91 L121,173.91 L121.4,173.92 L121.8,173.92 L122.2,173.93 L122.6,173.93 L123,173.93 L123.4,173.94 L123.8,173.94 L124.2,173.95 L124.6,173.95 L125,173.95 L125.4,173.96 L125.8,173.96 L126.2,173.97 L126.6,173.97 L127,173.97 L127.4,173.98 L127.8,173.98 L128.2,173.99 L128.6,173.99 L129,173.99 L129.4,174 L129.5,174 L129.5,174.5 Z" fill="#1f1f1f"/>
<path d="M35.5,105.5 H129.5 V176" fill="none" stroke="#555" stroke-width="1"/>
<line x1="35.5" y1="105.5" x2="35.5" y2="174.5" stroke="#4a4a4a" stroke-width="1"/>
<line x1="35.5" y1="174.5" x2="129.5" y2="174.5" stroke="#111" stroke-width="1.3"/>
<path d="M35.3,105.5 h-1.6 M35.3,108.06 h-1.6 M35.3,110.61 h-1.6 M35.3,113.17 h-1.6 M35.3,115.72 h-1.6 M35.3,118.28 h-1.6 M35.3,120.83 h-1.6 M35.3,123.39 h-1.6 M35.3,125.94 h-1.6 M35.3,128.5 h-1.6 M35.3,131.06 h-1.6 M35.3,133.61 h-1.6 M35.3,136.17 h-1.6 M35.3,138.72 h-1.6 M35.3,141.28 h-1.6 M35.3,143.83 h-1.6 M35.3,146.39 h-1.6 M35.3,148.94 h-1.6 M35.3,151.5 h-1.6 M35.3,154.06 h-1.6 M35.3,156.61 h-1.6 M35.3,159.17 h-1.6 M35.3,161.72 h-1.6 M35.3,164.28 h-1.6 M35.3,166.83 h-1.6 M35.3,169.39 h-1.6 M35.3,171.94 h-1.6 M35.3,174.5 h-1.6" stroke="#3a3a3a" stroke-width="0.9" fill="none"/>
<path d="M35.5,175 v1.6 M42.57,175 v1.6 M46.71,175 v1.6 M49.65,175 v1.6 M51.93,175 v1.6 M53.79,175 v1.6 M55.36,175 v1.6 M56.72,175 v1.6 M57.92,175 v1.6 M59,175 v1.6 M66.07,175 v1.6 M70.21,175 v1.6 M73.15,175 v1.6 M75.43,175 v1.6 M77.29,175 v1.6 M78.86,175 v1.6 M80.22,175 v1.6 M81.42,175 v1.6 M82.5,175 v1.6 M89.57,175 v1.6 M93.71,175 v1.6 M96.65,175 v1.6 M98.93,175 v1.6 M100.79,175 v1.6 M102.36,175 v1.6 M103.72,175 v1.6 M104.92,175 v1.6 M106,175 v1.6 M113.07,175 v1.6 M117.21,175 v1.6 M120.15,175 v1.6 M122.43,175 v1.6 M124.29,175 v1.6 M125.86,175 v1.6 M127.22,175 v1.6 M128.42,175 v1.6" stroke="#444" stroke-width="0.7" fill="none"/>
<text class="s" x="0" y="0" font-size="4.7" fill="#2e2e2e" stroke="#2e2e2e" stroke-width="0.2" text-anchor="middle" transform="translate(30.8,174.5) rotate(-90) scale(0.78,1)">0</text>
<text class="s" x="0" y="0" font-size="4.7" fill="#2e2e2e" stroke="#2e2e2e" stroke-width="0.2" text-anchor="middle" transform="translate(30.8,160.7) rotate(-90) scale(0.78,1)">20</text>
<text class="s" x="0" y="0" font-size="4.7" fill="#2e2e2e" stroke="#2e2e2e" stroke-width="0.2" text-anchor="middle" transform="translate(30.8,146.9) rotate(-90) scale(0.78,1)">40</text>
<text class="s" x="0" y="0" font-size="4.7" fill="#2e2e2e" stroke="#2e2e2e" stroke-width="0.2" text-anchor="middle" transform="translate(30.8,133.1) rotate(-90) scale(0.78,1)">60</text>
<text class="s" x="0" y="0" font-size="4.7" fill="#2e2e2e" stroke="#2e2e2e" stroke-width="0.2" text-anchor="middle" transform="translate(30.8,119.3) rotate(-90) scale(0.78,1)">80</text>
<text class="s" x="0" y="0" font-size="4.7" fill="#2e2e2e" stroke="#2e2e2e" stroke-width="0.2" text-anchor="middle" transform="translate(30.8,105.5) rotate(-90) scale(0.78,1)">100</text>
<text class="s" x="35.7" y="181.7" font-size="5.2" fill="#2e2e2e" stroke="#2e2e2e" stroke-width="0.2" text-anchor="middle">10<tspan font-size="3.6" dy="-2.4">0</tspan></text>
<text class="s" x="59.2" y="181.7" font-size="5.2" fill="#2e2e2e" stroke="#2e2e2e" stroke-width="0.2" text-anchor="middle">10<tspan font-size="3.6" dy="-2.4">1</tspan></text>
<text class="s" x="82.7" y="181.7" font-size="5.2" fill="#2e2e2e" stroke="#2e2e2e" stroke-width="0.2" text-anchor="middle">10<tspan font-size="3.6" dy="-2.4">2</tspan></text>
<text class="s" x="106.2" y="181.7" font-size="5.2" fill="#2e2e2e" stroke="#2e2e2e" stroke-width="0.2" text-anchor="middle">10<tspan font-size="3.6" dy="-2.4">3</tspan></text>
<text class="s" x="129.7" y="181.7" font-size="5.2" fill="#2e2e2e" stroke="#2e2e2e" stroke-width="0.2" text-anchor="middle">10<tspan font-size="3.6" dy="-2.4">4</tspan></text>
<path d="M35.5,113.5 H64.3 M64.3,109.6 v7.8" stroke="#3a3a3a" stroke-width="1" fill="none"/>
<path d="M35.5,109.5 v8" stroke="#222" stroke-width="1.2" fill="none"/>
<path d="M164.5,175 L164.5,174.6 L164.9,174.6 L165.3,174.6 L165.7,174.6 L166.1,174.6 L166.5,174.6 L166.9,174.6 L167.3,174.6 L167.7,174.6 L168.1,174.6 L168.5,174.6 L168.9,174.6 L169.3,174.6 L169.7,174.6 L170.1,174.6 L170.5,174.6 L170.9,174.6 L171.3,174.6 L171.7,174.6 L172.1,174.6 L172.5,174.6 L172.9,174.6 L173.3,174.6 L173.7,174.6 L174.1,174.6 L174.5,174.6 L174.9,174.6 L175.3,174.6 L175.7,174.6 L176.1,174.6 L176.5,174.6 L176.9,174.6 L177.3,174.6 L177.7,174.6 L178.1,174.6 L178.5,174.6 L178.9,174.6 L179.3,174.6 L179.7,174.6 L180.1,174.6 L180.5,174.6 L180.9,174.6 L181.3,174.6 L181.7,174.6 L182.1,174.6 L182.5,174.6 L182.9,174.6 L183.3,174.6 L183.7,174.6 L184.1,174.6 L184.5,174.6 L184.9,174.6 L185.3,174.6 L185.7,174.6 L186.1,174.6 L186.5,174.6 L186.9,174.6 L187.3,174.6 L187.7,174.6 L188.1,174.6 L188.5,174.6 L188.9,174.6 L189.3,174.6 L189.7,174.6 L190.1,174.6 L190.5,174.6 L190.9,174.6 L191.3,174.49 L191.7,174.37 L192.1,174.26 L192.5,174.14 L192.9,174.03 L193.3,173.91 L193.7,173.72 L194.1,173.76 L194.5,173.55 L194.9,173.44 L195.3,173.28 L195.7,173.43 L196.1,173.39 L196.5,172.93 L196.9,173.06 L197.3,172.61 L197.7,172.67 L198.1,172.71 L198.5,172.77 L198.9,172.23 L199.3,172.18 L199.7,172.13 L200.1,171.6 L200.5,171.85 L200.9,171.56 L201.3,171.71 L201.7,171.19 L202.1,170.83 L202.5,171.26 L202.9,171.2 L203.3,170.85 L203.7,171.15 L204.1,170.69 L204.5,170.47 L204.9,170.67 L205.3,169.82 L205.7,169.83 L206.1,169.77 L206.5,169.8 L206.9,169.2 L207.3,169.1 L207.7,168.5 L208.1,168.58 L208.5,168.82 L208.9,167.69 L209.3,168.59 L209.7,167.17 L210.1,167.17 L210.5,166.97 L210.9,167.04 L211.3,165.76 L211.7,165.04 L212.1,165.87 L212.5,165.62 L212.9,165.21 L213.3,165.8 L213.7,164.35 L214.1,164.04 L214.5,164.03 L214.9,163.16 L215.3,163.13 L215.7,160.95 L216.1,160.71 L216.5,158.33 L216.9,159.98 L217.3,158.62 L217.7,158.69 L218.1,158.45 L218.5,155.85 L218.9,154.4 L219.3,152.94 L219.7,151.4 L220.1,149.97 L220.5,148.52 L220.9,145.72 L221.3,143.39 L221.7,140.84 L222.1,139.35 L222.5,136.53 L222.9,133.49 L223.3,131.49 L223.7,127.86 L224.1,124.7 L224.5,125.4 L224.9,122.47 L225.3,119.94 L225.7,121.32 L226.1,120.07 L226.5,117.64 L226.9,121.48 L227.3,120.61 L227.7,121.54 L228.1,121.01 L228.5,120.84 L228.9,120.65 L229.3,124.49 L229.7,125.43 L230.1,127.02 L230.5,129.71 L230.9,131.52 L231.3,134.24 L231.7,135.76 L232.1,138.53 L232.5,138.85 L232.9,141.96 L233.3,144.52 L233.7,146.68 L234.1,147.05 L234.5,148.91 L234.9,151.71 L235.3,151.98 L235.7,154.28 L236.1,156.46 L236.5,157.02 L236.9,159.2 L237.3,159.49 L237.7,161.38 L238.1,162.61 L238.5,163.75 L238.9,165.14 L239.3,166.59 L239.7,166.19 L240.1,167.05 L240.5,168.25 L240.9,168.46 L241.3,169.78 L241.7,170.44 L242.1,170.72 L242.5,171.48 L242.9,171.48 L243.3,172.34 L243.7,172 L244.1,172.41 L244.5,172.65 L244.9,172.9 L245.3,173.35 L245.7,173.4 L246.1,173.53 L246.5,173.8 L246.9,173.81 L247.3,173.83 L247.7,173.84 L248.1,173.86 L248.5,173.87 L248.9,173.88 L249.3,173.9 L249.7,173.91 L250.1,173.93 L250.5,173.94 L250.9,173.95 L251.3,173.97 L251.7,173.98 L252.1,173.99 L252.5,174.01 L252.9,174.02 L253.3,174.04 L253.7,174.05 L254.1,174.06 L254.5,174.08 L254.9,174.09 L255.3,174.11 L255.7,174.12 L256.1,174.13 L256.5,174.15 L256.9,174.16 L257.3,174.18 L257.7,174.19 L258,174.2 L258,175 Z" fill="#1f1f1f"/>
<path d="M164.5,105.5 H258.5 V176.5" fill="none" stroke="#555" stroke-width="1"/>
<line x1="164.5" y1="105.5" x2="164.5" y2="175" stroke="#4a4a4a" stroke-width="1"/>
<line x1="164.5" y1="175" x2="258.5" y2="175" stroke="#111" stroke-width="1.3"/>
<path d="M164.3,105.5 h-1.6 M164.3,108.07 h-1.6 M164.3,110.65 h-1.6 M164.3,113.22 h-1.6 M164.3,115.8 h-1.6 M164.3,118.37 h-1.6 M164.3,120.94 h-1.6 M164.3,123.52 h-1.6 M164.3,126.09 h-1.6 M164.3,128.67 h-1.6 M164.3,131.24 h-1.6 M164.3,133.81 h-1.6 M164.3,136.39 h-1.6 M164.3,138.96 h-1.6 M164.3,141.54 h-1.6 M164.3,144.11 h-1.6 M164.3,146.69 h-1.6 M164.3,149.26 h-1.6 M164.3,151.83 h-1.6 M164.3,154.41 h-1.6 M164.3,156.98 h-1.6 M164.3,159.56 h-1.6 M164.3,162.13 h-1.6 M164.3,164.7 h-1.6 M164.3,167.28 h-1.6 M164.3,169.85 h-1.6 M164.3,172.43 h-1.6 M164.3,175 h-1.6" stroke="#3a3a3a" stroke-width="0.9" fill="none"/>
<path d="M164.5,175.5 v1.6 M171.57,175.5 v1.6 M175.71,175.5 v1.6 M178.65,175.5 v1.6 M180.93,175.5 v1.6 M182.79,175.5 v1.6 M184.36,175.5 v1.6 M185.72,175.5 v1.6 M186.92,175.5 v1.6 M188,175.5 v1.6 M195.07,175.5 v1.6 M199.21,175.5 v1.6 M202.15,175.5 v1.6 M204.43,175.5 v1.6 M206.29,175.5 v1.6 M207.86,175.5 v1.6 M209.22,175.5 v1.6 M210.42,175.5 v1.6 M211.5,175.5 v1.6 M218.57,175.5 v1.6 M222.71,175.5 v1.6 M225.65,175.5 v1.6 M227.93,175.5 v1.6 M229.79,175.5 v1.6 M231.36,175.5 v1.6 M232.72,175.5 v1.6 M233.92,175.5 v1.6 M235,175.5 v1.6 M242.07,175.5 v1.6 M246.21,175.5 v1.6 M249.15,175.5 v1.6 M251.43,175.5 v1.6 M253.29,175.5 v1.6 M254.86,175.5 v1.6 M256.22,175.5 v1.6 M257.42,175.5 v1.6" stroke="#444" stroke-width="0.7" fill="none"/>
<text class="s" x="0" y="0" font-size="4.7" fill="#2e2e2e" stroke="#2e2e2e" stroke-width="0.2" text-anchor="middle" transform="translate(159.8,175) rotate(-90) scale(0.78,1)">0</text>
<text class="s" x="0" y="0" font-size="4.7" fill="#2e2e2e" stroke="#2e2e2e" stroke-width="0.2" text-anchor="middle" transform="translate(159.8,161.1) rotate(-90) scale(0.78,1)">20</text>
<text class="s" x="0" y="0" font-size="4.7" fill="#2e2e2e" stroke="#2e2e2e" stroke-width="0.2" text-anchor="middle" transform="translate(159.8,147.2) rotate(-90) scale(0.78,1)">40</text>
<text class="s" x="0" y="0" font-size="4.7" fill="#2e2e2e" stroke="#2e2e2e" stroke-width="0.2" text-anchor="middle" transform="translate(159.8,133.3) rotate(-90) scale(0.78,1)">60</text>
<text class="s" x="0" y="0" font-size="4.7" fill="#2e2e2e" stroke="#2e2e2e" stroke-width="0.2" text-anchor="middle" transform="translate(159.8,119.4) rotate(-90) scale(0.78,1)">80</text>
<text class="s" x="0" y="0" font-size="4.7" fill="#2e2e2e" stroke="#2e2e2e" stroke-width="0.2" text-anchor="middle" transform="translate(159.8,105.5) rotate(-90) scale(0.78,1)">100</text>
<text class="s" x="164.7" y="182.2" font-size="5.2" fill="#2e2e2e" stroke="#2e2e2e" stroke-width="0.2" text-anchor="middle">10<tspan font-size="3.6" dy="-2.4">0</tspan></text>
<text class="s" x="188.2" y="182.2" font-size="5.2" fill="#2e2e2e" stroke="#2e2e2e" stroke-width="0.2" text-anchor="middle">10<tspan font-size="3.6" dy="-2.4">1</tspan></text>
<text class="s" x="211.7" y="182.2" font-size="5.2" fill="#2e2e2e" stroke="#2e2e2e" stroke-width="0.2" text-anchor="middle">10<tspan font-size="3.6" dy="-2.4">2</tspan></text>
<text class="s" x="235.2" y="182.2" font-size="5.2" fill="#2e2e2e" stroke="#2e2e2e" stroke-width="0.2" text-anchor="middle">10<tspan font-size="3.6" dy="-2.4">3</tspan></text>
<text class="s" x="258.7" y="182.2" font-size="5.2" fill="#2e2e2e" stroke="#2e2e2e" stroke-width="0.2" text-anchor="middle">10<tspan font-size="3.6" dy="-2.4">4</tspan></text>
<path d="M164.5,114.5 H190.3 M190.3,110.6 v7.8" stroke="#3a3a3a" stroke-width="1" fill="none"/>
<path d="M164.5,110.5 v8" stroke="#222" stroke-width="1.2" fill="none"/>
<path d="M293,176 L293,175.3 L293.4,175.29 L293.8,175.29 L294.2,175.28 L294.6,175.28 L295,175.27 L295.4,175.27 L295.8,175.26 L296.2,175.26 L296.6,175.25 L297,175.24 L297.4,175.24 L297.8,175.23 L298.2,175.23 L298.6,175.22 L299,175.22 L299.4,175.21 L299.8,175.2 L300.2,175.2 L300.6,175.19 L301,175.19 L301.4,175.18 L301.8,175.18 L302.2,175.17 L302.6,175.17 L303,175.16 L303.4,175.15 L303.8,175.15 L304.2,175.14 L304.6,175.14 L305,175.13 L305.4,175.13 L305.8,175.12 L306.2,175.11 L306.6,175.11 L307,175.1 L307.4,175.1 L307.8,175.09 L308.2,175.09 L308.6,175.08 L309,175.08 L309.4,175.07 L309.8,175.06 L310.2,175.06 L310.6,175.05 L311,175.05 L311.4,175.04 L311.8,175.04 L312.2,175.03 L312.6,175.02 L313,175.02 L313.4,175.01 L313.8,175.01 L314.2,175 L314.6,175 L315,174.99 L315.4,174.99 L315.8,174.98 L316.2,174.97 L316.6,174.97 L317,174.96 L317.4,174.96 L317.8,174.95 L318.2,174.95 L318.6,174.94 L319,174.93 L319.4,174.93 L319.8,174.92 L320.2,174.92 L320.6,174.91 L321,174.91 L321.4,174.9 L321.8,174.9 L322.2,174.89 L322.6,174.88 L323,174.88 L323.4,174.87 L323.8,174.87 L324.2,174.86 L324.6,174.86 L325,174.85 L325.4,174.84 L325.8,174.84 L326.2,174.83 L326.6,174.83 L327,174.82 L327.4,174.82 L327.8,174.81 L328.2,174.81 L328.6,174.8 L329,174.69 L329.4,174.68 L329.8,174.2 L330.2,174.07 L330.6,174.06 L331,173.66 L331.4,173.11 L331.8,173.79 L332.2,173.54 L332.6,171.51 L333,171.12 L333.4,170.34 L333.8,169.62 L334.2,168.6 L334.6,167.29 L335,165.77 L335.4,164.42 L335.8,163.05 L336.2,160.04 L336.6,158.18 L337,156.92 L337.4,153.53 L337.8,152.22 L338.2,149.68 L338.6,147.94 L339,144.65 L339.4,141.98 L339.8,139.59 L340.2,137.11 L340.6,133.76 L341,131.61 L341.4,129.53 L341.8,127.19 L342.2,124.96 L342.6,119.57 L343,117.3 L343.4,112.82 L343.8,115.52 L344.2,110.36 L344.6,108.96 L345,108.19 L345.4,105.5 L345.8,108.83 L346.2,109.8 L346.6,109.4 L347,113.47 L347.4,116.13 L347.8,115.55 L348.2,121.21 L348.6,123.35 L349,126.39 L349.4,129.12 L349.8,132.7 L350.2,134.04 L350.6,137.8 L351,139.45 L351.4,143.2 L351.8,144.76 L352.2,148.12 L352.6,152.23 L353,153.89 L353.4,155.87 L353.8,157.66 L354.2,160.28 L354.6,163.2 L355,165.35 L355.4,166.88 L355.8,168.7 L356.2,170.29 L356.6,171.89 L357,171.92 L357.4,172.44 L357.8,173.35 L358.2,173.71 L358.6,174.19 L359,174.71 L359.4,174.81 L359.8,174.82 L360.2,174.83 L360.6,174.83 L361,174.84 L361.4,174.85 L361.8,174.86 L362.2,174.87 L362.6,174.88 L363,174.88 L363.4,174.89 L363.8,174.9 L364.2,174.91 L364.6,174.92 L365,174.93 L365.4,174.93 L365.8,174.94 L366.2,174.95 L366.6,174.96 L367,174.97 L367.4,174.98 L367.8,174.99 L368.2,174.99 L368.6,175 L369,175.01 L369.4,175.02 L369.8,175.03 L370.2,175.04 L370.6,175.04 L371,175.05 L371.4,175.06 L371.8,175.07 L372.2,175.08 L372.6,175.09 L373,175.09 L373.4,175.1 L373.8,175.11 L374.2,175.12 L374.6,175.13 L375,175.14 L375.4,175.15 L375.8,175.15 L376.2,175.16 L376.6,175.17 L377,175.18 L377.4,175.19 L377.8,175.2 L378.2,175.2 L378.6,175.21 L379,175.22 L379.4,175.23 L379.8,175.24 L380.2,175.25 L380.6,175.25 L381,175.26 L381.4,175.27 L381.8,175.28 L382.2,175.29 L382.6,175.3 L383,175.31 L383.4,175.31 L383.8,175.32 L384.2,175.33 L384.6,175.34 L385,175.35 L385.4,175.36 L385.8,175.36 L386.2,175.37 L386.6,175.38 L387,175.39 L387.4,175.4 L387.5,175.4 L387.5,176 Z" fill="#1f1f1f"/>
<path d="M292.5,105 H387.5 V177.5" fill="none" stroke="#555" stroke-width="1"/>
<line x1="292.5" y1="105" x2="292.5" y2="176" stroke="#4a4a4a" stroke-width="1"/>
<line x1="292.5" y1="176" x2="387.5" y2="176" stroke="#111" stroke-width="1.3"/>
<path d="M292.3,105 h-1.6 M292.3,107.63 h-1.6 M292.3,110.26 h-1.6 M292.3,112.89 h-1.6 M292.3,115.52 h-1.6 M292.3,118.15 h-1.6 M292.3,120.78 h-1.6 M292.3,123.41 h-1.6 M292.3,126.04 h-1.6 M292.3,128.67 h-1.6 M292.3,131.3 h-1.6 M292.3,133.93 h-1.6 M292.3,136.56 h-1.6 M292.3,139.19 h-1.6 M292.3,141.81 h-1.6 M292.3,144.44 h-1.6 M292.3,147.07 h-1.6 M292.3,149.7 h-1.6 M292.3,152.33 h-1.6 M292.3,154.96 h-1.6 M292.3,157.59 h-1.6 M292.3,160.22 h-1.6 M292.3,162.85 h-1.6 M292.3,165.48 h-1.6 M292.3,168.11 h-1.6 M292.3,170.74 h-1.6 M292.3,173.37 h-1.6 M292.3,176 h-1.6" stroke="#3a3a3a" stroke-width="0.9" fill="none"/>
<path d="M292.5,176.5 v1.6 M299.65,176.5 v1.6 M303.83,176.5 v1.6 M306.8,176.5 v1.6 M309.1,176.5 v1.6 M310.98,176.5 v1.6 M312.57,176.5 v1.6 M313.95,176.5 v1.6 M315.16,176.5 v1.6 M316.25,176.5 v1.6 M323.4,176.5 v1.6 M327.58,176.5 v1.6 M330.55,176.5 v1.6 M332.85,176.5 v1.6 M334.73,176.5 v1.6 M336.32,176.5 v1.6 M337.7,176.5 v1.6 M338.91,176.5 v1.6 M340,176.5 v1.6 M347.15,176.5 v1.6 M351.33,176.5 v1.6 M354.3,176.5 v1.6 M356.6,176.5 v1.6 M358.48,176.5 v1.6 M360.07,176.5 v1.6 M361.45,176.5 v1.6 M362.66,176.5 v1.6 M363.75,176.5 v1.6 M370.9,176.5 v1.6 M375.08,176.5 v1.6 M378.05,176.5 v1.6 M380.35,176.5 v1.6 M382.23,176.5 v1.6 M383.82,176.5 v1.6 M385.2,176.5 v1.6 M386.41,176.5 v1.6" stroke="#444" stroke-width="0.7" fill="none"/>
<text class="s" x="0" y="0" font-size="4.7" fill="#2e2e2e" stroke="#2e2e2e" stroke-width="0.2" text-anchor="middle" transform="translate(287.8,176) rotate(-90) scale(0.78,1)">0</text>
<text class="s" x="0" y="0" font-size="4.7" fill="#2e2e2e" stroke="#2e2e2e" stroke-width="0.2" text-anchor="middle" transform="translate(287.8,161.8) rotate(-90) scale(0.78,1)">20</text>
<text class="s" x="0" y="0" font-size="4.7" fill="#2e2e2e" stroke="#2e2e2e" stroke-width="0.2" text-anchor="middle" transform="translate(287.8,147.6) rotate(-90) scale(0.78,1)">40</text>
<text class="s" x="0" y="0" font-size="4.7" fill="#2e2e2e" stroke="#2e2e2e" stroke-width="0.2" text-anchor="middle" transform="translate(287.8,133.4) rotate(-90) scale(0.78,1)">60</text>
<text class="s" x="0" y="0" font-size="4.7" fill="#2e2e2e" stroke="#2e2e2e" stroke-width="0.2" text-anchor="middle" transform="translate(287.8,119.2) rotate(-90) scale(0.78,1)">80</text>
<text class="s" x="0" y="0" font-size="4.7" fill="#2e2e2e" stroke="#2e2e2e" stroke-width="0.2" text-anchor="middle" transform="translate(287.8,105) rotate(-90) scale(0.78,1)">100</text>
<text class="s" x="292.7" y="183.2" font-size="5.2" fill="#2e2e2e" stroke="#2e2e2e" stroke-width="0.2" text-anchor="middle">10<tspan font-size="3.6" dy="-2.4">0</tspan></text>
<text class="s" x="316.45" y="183.2" font-size="5.2" fill="#2e2e2e" stroke="#2e2e2e" stroke-width="0.2" text-anchor="middle">10<tspan font-size="3.6" dy="-2.4">1</tspan></text>
<text class="s" x="340.2" y="183.2" font-size="5.2" fill="#2e2e2e" stroke="#2e2e2e" stroke-width="0.2" text-anchor="middle">10<tspan font-size="3.6" dy="-2.4">2</tspan></text>
<text class="s" x="363.95" y="183.2" font-size="5.2" fill="#2e2e2e" stroke="#2e2e2e" stroke-width="0.2" text-anchor="middle">10<tspan font-size="3.6" dy="-2.4">3</tspan></text>
<text class="s" x="387.7" y="183.2" font-size="5.2" fill="#2e2e2e" stroke="#2e2e2e" stroke-width="0.2" text-anchor="middle">10<tspan font-size="3.6" dy="-2.4">4</tspan></text>
<path d="M292.5,113.5 H321.5 M321.5,109.6 v7.8" stroke="#3a3a3a" stroke-width="1" fill="none"/>
<path d="M292.5,109.5 v8" stroke="#222" stroke-width="1.2" fill="none"/>
<path d="M421.5,176 L421.5,175.3 L421.9,175.28 L422.3,175.26 L422.7,175.24 L423.1,175.22 L423.5,175.2 L423.9,175.18 L424.3,175.16 L424.7,175.14 L425.1,175.12 L425.5,175.1 L425.9,175.07 L426.3,175.05 L426.7,175.03 L427.1,175.01 L427.5,174.99 L427.9,174.97 L428.3,174.95 L428.7,174.93 L429.1,174.91 L429.5,174.89 L429.9,174.87 L430.3,174.85 L430.7,174.83 L431.1,174.81 L431.5,174.69 L431.9,175.01 L432.3,174.88 L432.7,174.25 L433.1,174.87 L433.5,174.76 L433.9,174.26 L434.3,174.96 L434.7,174.51 L435.1,174.47 L435.5,174.91 L435.9,175.11 L436.3,174.25 L436.7,174.71 L437.1,174.13 L437.5,175.47 L437.9,174.25 L438.3,174.96 L438.7,174.14 L439.1,174.76 L439.5,175.36 L439.9,173.23 L440.3,174.14 L440.7,174.54 L441.1,174.25 L441.5,173.97 L441.9,175.24 L442.3,174.27 L442.7,173.45 L443.1,174.59 L443.5,173.36 L443.9,174.7 L444.3,173.86 L444.7,174.18 L445.1,174.7 L445.5,174.13 L445.9,173.38 L446.3,173.2 L446.7,174.59 L447.1,174.29 L447.5,173.33 L447.9,174.05 L448.3,173.7 L448.7,173.63 L449.1,171.76 L449.5,172.75 L449.9,173.33 L450.3,173.08 L450.7,173.02 L451.1,170.61 L451.5,172.2 L451.9,172.25 L452.3,173.56 L452.7,170.84 L453.1,171.11 L453.5,171.21 L453.9,171.69 L454.3,170.47 L454.7,171.56 L455.1,169.8 L455.5,170.45 L455.9,169.55 L456.3,169.92 L456.7,168.95 L457.1,167.91 L457.5,170.12 L457.9,169.18 L458.3,168.15 L458.7,168.65 L459.1,169 L459.5,166.53 L459.9,166.9 L460.3,167.09 L460.7,166.59 L461.1,165.13 L461.5,162.57 L461.9,165.96 L462.3,164.39 L462.7,163.5 L463.1,162.64 L463.5,162.82 L463.9,161.42 L464.3,160.04 L464.7,159.59 L465.1,158.96 L465.5,158.12 L465.9,156.5 L466.3,158.37 L466.7,154.64 L467.1,156.9 L467.5,153.48 L467.9,154.74 L468.3,155.48 L468.7,152.57 L469.1,149.98 L469.5,150.32 L469.9,149.48 L470.3,145.02 L470.7,146.43 L471.1,147.23 L471.5,145.39 L471.9,145.79 L472.3,146.42 L472.7,146.03 L473.1,145.84 L473.5,144.75 L473.9,142.54 L474.3,142.59 L474.7,141.58 L475.1,140.99 L475.5,140.76 L475.9,137.06 L476.3,139.58 L476.7,139.92 L477.1,137.63 L477.5,139.32 L477.9,140.16 L478.3,138.58 L478.7,143.23 L479.1,133.19 L479.5,138.19 L479.9,134.64 L480.3,140.66 L480.7,144.32 L481.1,133.46 L481.5,139.15 L481.9,140.07 L482.3,138.76 L482.7,141.09 L483.1,135.82 L483.5,142.75 L483.9,142.82 L484.3,143.18 L484.7,143.05 L485.1,146.46 L485.5,145.22 L485.9,147.47 L486.3,147.03 L486.7,144.84 L487.1,149.79 L487.5,151.15 L487.9,153.05 L488.3,151.34 L488.7,153.8 L489.1,155.89 L489.5,156.1 L489.9,158.73 L490.3,160.77 L490.7,157.5 L491.1,157.14 L491.5,162 L491.9,163.8 L492.3,163.77 L492.7,164.4 L493.1,163.46 L493.5,164.18 L493.9,166.79 L494.3,165.63 L494.7,165.55 L495.1,167.23 L495.5,171.02 L495.9,170.8 L496.3,168.79 L496.7,169.14 L497.1,170.33 L497.5,169.89 L497.9,171.85 L498.3,171.07 L498.7,170.64 L499.1,172.7 L499.5,171.68 L499.9,172.55 L500.3,172.58 L500.7,172.59 L501.1,173.17 L501.5,172.76 L501.9,172.31 L502.3,172.35 L502.7,173.08 L503.1,173.55 L503.5,174.11 L503.9,174.34 L504.3,174.74 L504.7,174.66 L505.1,174.31 L505.5,174.38 L505.9,173.84 L506.3,174.64 L506.7,174.92 L507.1,174.96 L507.5,174.74 L507.9,174.81 L508.3,174.83 L508.7,174.86 L509.1,174.88 L509.5,174.9 L509.9,174.93 L510.3,174.95 L510.7,174.98 L511.1,175 L511.5,175.03 L511.9,175.05 L512.3,175.07 L512.7,175.1 L513.1,175.12 L513.5,175.15 L513.9,175.17 L514.3,175.2 L514.7,175.22 L515.1,175.25 L515.5,175.27 L515.9,175.29 L516,175.3 L516,176 Z" fill="#1f1f1f"/>
<path d="M421,105.5 H516.5 V177.5" fill="none" stroke="#555" stroke-width="1"/>
<line x1="421" y1="105.5" x2="421" y2="176" stroke="#4a4a4a" stroke-width="1"/>
<line x1="421" y1="176" x2="516.5" y2="176" stroke="#111" stroke-width="1.3"/>
<path d="M420.8,105.5 h-1.6 M420.8,108.11 h-1.6 M420.8,110.72 h-1.6 M420.8,113.33 h-1.6 M420.8,115.94 h-1.6 M420.8,118.56 h-1.6 M420.8,121.17 h-1.6 M420.8,123.78 h-1.6 M420.8,126.39 h-1.6 M420.8,129 h-1.6 M420.8,131.61 h-1.6 M420.8,134.22 h-1.6 M420.8,136.83 h-1.6 M420.8,139.44 h-1.6 M420.8,142.06 h-1.6 M420.8,144.67 h-1.6 M420.8,147.28 h-1.6 M420.8,149.89 h-1.6 M420.8,152.5 h-1.6 M420.8,155.11 h-1.6 M420.8,157.72 h-1.6 M420.8,160.33 h-1.6 M420.8,162.94 h-1.6 M420.8,165.56 h-1.6 M420.8,168.17 h-1.6 M420.8,170.78 h-1.6 M420.8,173.39 h-1.6 M420.8,176 h-1.6" stroke="#3a3a3a" stroke-width="0.9" fill="none"/>
<path d="M421,176.5 v1.6 M428.19,176.5 v1.6 M432.39,176.5 v1.6 M435.37,176.5 v1.6 M437.69,176.5 v1.6 M439.58,176.5 v1.6 M441.18,176.5 v1.6 M442.56,176.5 v1.6 M443.78,176.5 v1.6 M444.88,176.5 v1.6 M452.06,176.5 v1.6 M456.27,176.5 v1.6 M459.25,176.5 v1.6 M461.56,176.5 v1.6 M463.45,176.5 v1.6 M465.05,176.5 v1.6 M466.44,176.5 v1.6 M467.66,176.5 v1.6 M468.75,176.5 v1.6 M475.94,176.5 v1.6 M480.14,176.5 v1.6 M483.12,176.5 v1.6 M485.44,176.5 v1.6 M487.33,176.5 v1.6 M488.93,176.5 v1.6 M490.31,176.5 v1.6 M491.53,176.5 v1.6 M492.62,176.5 v1.6 M499.81,176.5 v1.6 M504.02,176.5 v1.6 M507,176.5 v1.6 M509.31,176.5 v1.6 M511.2,176.5 v1.6 M512.8,176.5 v1.6 M514.19,176.5 v1.6 M515.41,176.5 v1.6" stroke="#444" stroke-width="0.7" fill="none"/>
<text class="s" x="0" y="0" font-size="4.7" fill="#2e2e2e" stroke="#2e2e2e" stroke-width="0.2" text-anchor="middle" transform="translate(416.3,176) rotate(-90) scale(0.78,1)">0</text>
<text class="s" x="0" y="0" font-size="4.7" fill="#2e2e2e" stroke="#2e2e2e" stroke-width="0.2" text-anchor="middle" transform="translate(416.3,161.9) rotate(-90) scale(0.78,1)">20</text>
<text class="s" x="0" y="0" font-size="4.7" fill="#2e2e2e" stroke="#2e2e2e" stroke-width="0.2" text-anchor="middle" transform="translate(416.3,147.8) rotate(-90) scale(0.78,1)">40</text>
<text class="s" x="0" y="0" font-size="4.7" fill="#2e2e2e" stroke="#2e2e2e" stroke-width="0.2" text-anchor="middle" transform="translate(416.3,133.7) rotate(-90) scale(0.78,1)">60</text>
<text class="s" x="0" y="0" font-size="4.7" fill="#2e2e2e" stroke="#2e2e2e" stroke-width="0.2" text-anchor="middle" transform="translate(416.3,119.6) rotate(-90) scale(0.78,1)">80</text>
<text class="s" x="0" y="0" font-size="4.7" fill="#2e2e2e" stroke="#2e2e2e" stroke-width="0.2" text-anchor="middle" transform="translate(416.3,105.5) rotate(-90) scale(0.78,1)">100</text>
<text class="s" x="421.2" y="183.2" font-size="5.2" fill="#2e2e2e" stroke="#2e2e2e" stroke-width="0.2" text-anchor="middle">10<tspan font-size="3.6" dy="-2.4">0</tspan></text>
<text class="s" x="445.07" y="183.2" font-size="5.2" fill="#2e2e2e" stroke="#2e2e2e" stroke-width="0.2" text-anchor="middle">10<tspan font-size="3.6" dy="-2.4">1</tspan></text>
<text class="s" x="468.95" y="183.2" font-size="5.2" fill="#2e2e2e" stroke="#2e2e2e" stroke-width="0.2" text-anchor="middle">10<tspan font-size="3.6" dy="-2.4">2</tspan></text>
<text class="s" x="492.82" y="183.2" font-size="5.2" fill="#2e2e2e" stroke="#2e2e2e" stroke-width="0.2" text-anchor="middle">10<tspan font-size="3.6" dy="-2.4">3</tspan></text>
<text class="s" x="516.7" y="183.2" font-size="5.2" fill="#2e2e2e" stroke="#2e2e2e" stroke-width="0.2" text-anchor="middle">10<tspan font-size="3.6" dy="-2.4">4</tspan></text>
<path d="M421.5,107.5 H445.2 M445.2,103.6 v7.8" stroke="#3a3a3a" stroke-width="1" fill="none"/>
<path d="M421.5,103.5 v8" stroke="#222" stroke-width="1.2" fill="none"/>
<path d="M35.8,276 L35.8,248 L36.2,247.3 L36.6,247.29 L37,244.87 L37.4,243.01 L37.8,240.99 L38.2,242.68 L38.6,242.99 L39,239.63 L39.4,237.05 L39.8,234.21 L40.2,232.1 L40.6,232.22 L41,230.32 L41.4,226.57 L41.8,225.3 L42.2,224.12 L42.6,222.79 L43,222.27 L43.4,220.17 L43.8,221.33 L44.2,221.23 L44.6,221.04 L45,218.47 L45.4,216.34 L45.8,216.53 L46.2,217.47 L46.6,218.52 L47,222.28 L47.4,221.06 L47.8,222.68 L48.2,226.86 L48.6,228.18 L49,230.07 L49.4,231.9 L49.8,235.53 L50.2,239.16 L50.6,240.72 L51,243.85 L51.4,245.58 L51.8,248.69 L52.2,250.51 L52.6,252.86 L53,255.38 L53.4,255.71 L53.8,258.66 L54.2,260.27 L54.6,261.26 L55,262.84 L55.4,264.61 L55.8,266.38 L56.2,266.95 L56.6,267.9 L57,267.84 L57.4,269.85 L57.8,269.84 L58.2,270.48 L58.6,270.71 L59,271.29 L59.4,271.22 L59.8,271.81 L60.2,272.16 L60.6,272.28 L61,272.59 L61.4,272.54 L61.8,273.35 L62.2,273.03 L62.6,272.96 L63,273.52 L63.4,273.59 L63.8,273.73 L64.2,274.06 L64.6,274.37 L65,274.29 L65.4,274.48 L65.8,274.75 L66.2,274.63 L66.6,274.49 L67,274.54 L67.4,274.5 L67.8,274.51 L68.2,274.65 L68.6,274.51 L69,274.12 L69.4,274.53 L69.8,274.38 L70.2,274.65 L70.6,274.44 L71,274.57 L71.4,274.92 L71.8,274.37 L72.2,274.36 L72.6,274.32 L73,274.15 L73.4,274.25 L73.8,274.63 L74.2,274.46 L74.6,274.26 L75,274.33 L75.4,274.69 L75.8,274.45 L76.2,274.53 L76.6,274.65 L77,274.82 L77.4,274.92 L77.8,274.77 L78.2,274.63 L78.6,274.64 L79,274.91 L79.4,274.85 L79.8,274.56 L80.2,274.7 L80.6,274.67 L81,274.63 L81.4,274.54 L81.8,274.41 L82.2,274.55 L82.6,274.38 L83,274.84 L83.4,274.73 L83.8,274.45 L84.2,274.88 L84.6,274.8 L85,274.34 L85.4,274.96 L85.8,274.8 L86.2,275 L86.6,274.47 L87,274.76 L87.4,274.74 L87.8,274.71 L88.2,274.71 L88.6,274.86 L89,274.44 L89.4,274.49 L89.8,274.47 L90.2,274.61 L90.6,274.6 L91,274.76 L91.4,274.75 L91.8,274.71 L92.2,274.6 L92.6,274.64 L93,274.87 L93.4,274.84 L93.8,274.74 L94.2,274.68 L94.6,274.98 L95,274.64 L95.4,274.84 L95.8,274.92 L96.2,274.7 L96.6,274.88 L97,274.57 L97.4,274.91 L97.8,274.79 L98.2,274.51 L98.6,274.87 L99,274.62 L99.4,274.97 L99.8,274.66 L100.2,274.75 L100.6,274.82 L101,274.73 L101.4,274.83 L101.8,274.7 L102.2,274.9 L102.6,274.79 L103,274.83 L103.4,274.8 L103.8,274.8 L104.2,274.81 L104.6,274.81 L105,274.81 L105.4,274.82 L105.8,274.82 L106.2,274.82 L106.6,274.82 L107,274.83 L107.4,274.83 L107.8,274.83 L108.2,274.84 L108.6,274.84 L109,274.84 L109.4,274.85 L109.8,274.85 L110.2,274.85 L110.6,274.86 L111,274.86 L111.4,274.86 L111.8,274.87 L112.2,274.87 L112.6,274.87 L113,274.88 L113.4,274.88 L113.8,274.88 L114.2,274.88 L114.6,274.89 L115,274.89 L115.4,274.89 L115.8,274.9 L116.2,274.9 L116.6,274.9 L117,274.91 L117.4,274.91 L117.8,274.91 L118.2,274.92 L118.6,274.92 L119,274.92 L119.4,274.93 L119.8,274.93 L120.2,274.93 L120.6,274.93 L121,274.94 L121.4,274.94 L121.8,274.94 L122.2,274.95 L122.6,274.95 L123,274.95 L123.4,274.96 L123.8,274.96 L124.2,274.96 L124.6,274.97 L125,274.97 L125.4,274.97 L125.8,274.98 L126.2,274.98 L126.6,274.98 L127,274.98 L127.4,274.99 L127.8,274.99 L128.2,274.99 L128.6,275 L129,275 L129,276 Z" fill="#1f1f1f"/>
<path d="M35.5,206.5 H129.5 V277.5" fill="none" stroke="#555" stroke-width="1"/>
<line x1="35.5" y1="206.5" x2="35.5" y2="276" stroke="#4a4a4a" stroke-width="1"/>
<line x1="35.5" y1="276" x2="129.5" y2="276" stroke="#111" stroke-width="1.3"/>
<path d="M35.3,206.5 h-1.6 M35.3,209.07 h-1.6 M35.3,211.65 h-1.6 M35.3,214.22 h-1.6 M35.3,216.8 h-1.6 M35.3,219.37 h-1.6 M35.3,221.94 h-1.6 M35.3,224.52 h-1.6 M35.3,227.09 h-1.6 M35.3,229.67 h-1.6 M35.3,232.24 h-1.6 M35.3,234.81 h-1.6 M35.3,237.39 h-1.6 M35.3,239.96 h-1.6 M35.3,242.54 h-1.6 M35.3,245.11 h-1.6 M35.3,247.69 h-1.6 M35.3,250.26 h-1.6 M35.3,252.83 h-1.6 M35.3,255.41 h-1.6 M35.3,257.98 h-1.6 M35.3,260.56 h-1.6 M35.3,263.13 h-1.6 M35.3,265.7 h-1.6 M35.3,268.28 h-1.6 M35.3,270.85 h-1.6 M35.3,273.43 h-1.6 M35.3,276 h-1.6" stroke="#3a3a3a" stroke-width="0.9" fill="none"/>
<path d="M35.5,276.5 v1.6 M42.57,276.5 v1.6 M46.71,276.5 v1.6 M49.65,276.5 v1.6 M51.93,276.5 v1.6 M53.79,276.5 v1.6 M55.36,276.5 v1.6 M56.72,276.5 v1.6 M57.92,276.5 v1.6 M59,276.5 v1.6 M66.07,276.5 v1.6 M70.21,276.5 v1.6 M73.15,276.5 v1.6 M75.43,276.5 v1.6 M77.29,276.5 v1.6 M78.86,276.5 v1.6 M80.22,276.5 v1.6 M81.42,276.5 v1.6 M82.5,276.5 v1.6 M89.57,276.5 v1.6 M93.71,276.5 v1.6 M96.65,276.5 v1.6 M98.93,276.5 v1.6 M100.79,276.5 v1.6 M102.36,276.5 v1.6 M103.72,276.5 v1.6 M104.92,276.5 v1.6 M106,276.5 v1.6 M113.07,276.5 v1.6 M117.21,276.5 v1.6 M120.15,276.5 v1.6 M122.43,276.5 v1.6 M124.29,276.5 v1.6 M125.86,276.5 v1.6 M127.22,276.5 v1.6 M128.42,276.5 v1.6" stroke="#444" stroke-width="0.7" fill="none"/>
<text class="s" x="0" y="0" font-size="4.7" fill="#2e2e2e" stroke="#2e2e2e" stroke-width="0.2" text-anchor="middle" transform="translate(30.8,276) rotate(-90) scale(0.78,1)">0</text>
<text class="s" x="0" y="0" font-size="4.7" fill="#2e2e2e" stroke="#2e2e2e" stroke-width="0.2" text-anchor="middle" transform="translate(30.8,262.1) rotate(-90) scale(0.78,1)">20</text>
<text class="s" x="0" y="0" font-size="4.7" fill="#2e2e2e" stroke="#2e2e2e" stroke-width="0.2" text-anchor="middle" transform="translate(30.8,248.2) rotate(-90) scale(0.78,1)">40</text>
<text class="s" x="0" y="0" font-size="4.7" fill="#2e2e2e" stroke="#2e2e2e" stroke-width="0.2" text-anchor="middle" transform="translate(30.8,234.3) rotate(-90) scale(0.78,1)">60</text>
<text class="s" x="0" y="0" font-size="4.7" fill="#2e2e2e" stroke="#2e2e2e" stroke-width="0.2" text-anchor="middle" transform="translate(30.8,220.4) rotate(-90) scale(0.78,1)">80</text>
<text class="s" x="0" y="0" font-size="4.7" fill="#2e2e2e" stroke="#2e2e2e" stroke-width="0.2" text-anchor="middle" transform="translate(30.8,206.5) rotate(-90) scale(0.78,1)">100</text>
<text class="s" x="35.7" y="283.2" font-size="5.2" fill="#2e2e2e" stroke="#2e2e2e" stroke-width="0.2" text-anchor="middle">10<tspan font-size="3.6" dy="-2.4">0</tspan></text>
<text class="s" x="59.2" y="283.2" font-size="5.2" fill="#2e2e2e" stroke="#2e2e2e" stroke-width="0.2" text-anchor="middle">10<tspan font-size="3.6" dy="-2.4">1</tspan></text>
<text class="s" x="82.7" y="283.2" font-size="5.2" fill="#2e2e2e" stroke="#2e2e2e" stroke-width="0.2" text-anchor="middle">10<tspan font-size="3.6" dy="-2.4">2</tspan></text>
<text class="s" x="106.2" y="283.2" font-size="5.2" fill="#2e2e2e" stroke="#2e2e2e" stroke-width="0.2" text-anchor="middle">10<tspan font-size="3.6" dy="-2.4">3</tspan></text>
<text class="s" x="129.7" y="283.2" font-size="5.2" fill="#2e2e2e" stroke="#2e2e2e" stroke-width="0.2" text-anchor="middle">10<tspan font-size="3.6" dy="-2.4">4</tspan></text>
<path d="M35.5,212.5 H60.9 M60.9,208.6 v7.8" stroke="#3a3a3a" stroke-width="1" fill="none"/>
<path d="M35.5,208.5 v8" stroke="#222" stroke-width="1.2" fill="none"/>
<path d="M164.5,276 L164.5,275.5 L164.9,275.5 L165.3,275.5 L165.7,275.5 L166.1,275.5 L166.5,275.5 L166.9,275.5 L167.3,275.5 L167.7,275.5 L168.1,275.5 L168.5,275.5 L168.9,275.5 L169.3,275.5 L169.7,275.5 L170.1,275.5 L170.5,275.5 L170.9,275.5 L171.3,275.5 L171.7,275.5 L172.1,275.5 L172.5,275.5 L172.9,275.5 L173.3,275.5 L173.7,275.5 L174.1,275.5 L174.5,275.5 L174.9,275.5 L175.3,275.5 L175.7,275.5 L176.1,275.5 L176.5,275.5 L176.9,275.5 L177.3,275.5 L177.7,275.5 L178.1,275.5 L178.5,275.5 L178.9,275.5 L179.3,275.5 L179.7,275.5 L180.1,275.5 L180.5,275.5 L180.9,275.5 L181.3,275.5 L181.7,275.5 L182.1,275.5 L182.5,275.5 L182.9,275.5 L183.3,275.5 L183.7,275.5 L184.1,275.5 L184.5,275.5 L184.9,275.5 L185.3,275.5 L185.7,275.5 L186.1,275.5 L186.5,275.5 L186.9,275.5 L187.3,275.5 L187.7,275.5 L188.1,275.5 L188.5,275.5 L188.9,275.5 L189.3,275.5 L189.7,275.5 L190.1,275.5 L190.5,275.5 L190.9,275.5 L191.3,275.5 L191.7,275.5 L192.1,275.5 L192.5,275.5 L192.9,275.5 L193.3,275.5 L193.7,275.5 L194.1,275.5 L194.5,275.5 L194.9,275.5 L195.3,275.5 L195.7,275.5 L196.1,275.5 L196.5,275.5 L196.9,275.5 L197.3,275.5 L197.7,275.5 L198.1,275.5 L198.5,275.5 L198.9,275.5 L199.3,275.5 L199.7,275.5 L200.1,275.5 L200.5,275.5 L200.9,275.5 L201.3,275.5 L201.7,275.5 L202.1,275.5 L202.5,275.5 L202.9,275.5 L203.3,275.5 L203.7,275.5 L204.1,275.5 L204.5,275.5 L204.9,275.5 L205.3,275.5 L205.7,275.5 L206.1,275.5 L206.5,275.5 L206.9,275.5 L207.3,275.5 L207.7,275.5 L208.1,275.5 L208.5,275.5 L208.9,275.5 L209.3,275.5 L209.7,275.5 L210.1,275.5 L210.5,275.5 L210.9,275.5 L211.3,275.5 L211.7,275.5 L212.1,275.5 L212.5,275.5 L212.9,275.5 L213.3,275.5 L213.7,275.36 L214.1,275.09 L214.5,274.82 L214.9,274.09 L215.3,274.5 L215.7,274.03 L216.1,273.37 L216.5,273.5 L216.9,273.32 L217.3,273.21 L217.7,272.4 L218.1,272.82 L218.5,272.09 L218.9,272.56 L219.3,271.56 L219.7,271.35 L220.1,270.35 L220.5,269.42 L220.9,269.56 L221.3,268.84 L221.7,268.45 L222.1,267.52 L222.5,266.24 L222.9,263.98 L223.3,262.36 L223.7,260.25 L224.1,258.06 L224.5,256.84 L224.9,254.1 L225.3,250.93 L225.7,248.49 L226.1,245.48 L226.5,243.01 L226.9,240.53 L227.3,237.62 L227.7,233.01 L228.1,229.08 L228.5,228.73 L228.9,224.12 L229.3,221.87 L229.7,215.61 L230.1,214.65 L230.5,212.98 L230.9,209.22 L231.3,208.91 L231.7,211.07 L232.1,212.21 L232.5,213.53 L232.9,211.46 L233.3,212.94 L233.7,217.14 L234.1,219.65 L234.5,220.91 L234.9,222.13 L235.3,227.02 L235.7,229.78 L236.1,232.43 L236.5,234.79 L236.9,238.82 L237.3,242.54 L237.7,244.76 L238.1,247.01 L238.5,251.38 L238.9,254.23 L239.3,256.68 L239.7,259.95 L240.1,261.89 L240.5,264.01 L240.9,265.77 L241.3,267.99 L241.7,270.19 L242.1,271.39 L242.5,272.42 L242.9,272.6 L243.3,272.73 L243.7,273.02 L244.1,273.64 L244.5,273.53 L244.9,273.9 L245.3,273.99 L245.7,274.31 L246.1,274.5 L246.5,274.38 L246.9,274.38 L247.3,274.29 L247.7,274.39 L248.1,274.13 L248.5,274.6 L248.9,274.37 L249.3,274.27 L249.7,274.36 L250.1,274.38 L250.5,274.7 L250.9,274.76 L251.3,274.38 L251.7,274.79 L252.1,274.8 L252.5,274.59 L252.9,274.47 L253.3,274.62 L253.7,274.67 L254.1,274.85 L254.5,274.82 L254.9,274.85 L255.3,274.88 L255.7,274.9 L256.1,274.93 L256.5,274.96 L256.9,274.99 L257,274.99 L257,276 Z" fill="#1f1f1f"/>
<path d="M164.5,206.5 H257.5 V277.5" fill="none" stroke="#555" stroke-width="1"/>
<line x1="164.5" y1="206.5" x2="164.5" y2="276" stroke="#4a4a4a" stroke-width="1"/>
<line x1="164.5" y1="276" x2="257.5" y2="276" stroke="#111" stroke-width="1.3"/>
<path d="M164.3,206.5 h-1.6 M164.3,209.07 h-1.6 M164.3,211.65 h-1.6 M164.3,214.22 h-1.6 M164.3,216.8 h-1.6 M164.3,219.37 h-1.6 M164.3,221.94 h-1.6 M164.3,224.52 h-1.6 M164.3,227.09 h-1.6 M164.3,229.67 h-1.6 M164.3,232.24 h-1.6 M164.3,234.81 h-1.6 M164.3,237.39 h-1.6 M164.3,239.96 h-1.6 M164.3,242.54 h-1.6 M164.3,245.11 h-1.6 M164.3,247.69 h-1.6 M164.3,250.26 h-1.6 M164.3,252.83 h-1.6 M164.3,255.41 h-1.6 M164.3,257.98 h-1.6 M164.3,260.56 h-1.6 M164.3,263.13 h-1.6 M164.3,265.7 h-1.6 M164.3,268.28 h-1.6 M164.3,270.85 h-1.6 M164.3,273.43 h-1.6 M164.3,276 h-1.6" stroke="#3a3a3a" stroke-width="0.9" fill="none"/>
<path d="M164.5,276.5 v1.6 M171.5,276.5 v1.6 M175.59,276.5 v1.6 M178.5,276.5 v1.6 M180.75,276.5 v1.6 M182.59,276.5 v1.6 M184.15,276.5 v1.6 M185.5,276.5 v1.6 M186.69,276.5 v1.6 M187.75,276.5 v1.6 M194.75,276.5 v1.6 M198.84,276.5 v1.6 M201.75,276.5 v1.6 M204,276.5 v1.6 M205.84,276.5 v1.6 M207.4,276.5 v1.6 M208.75,276.5 v1.6 M209.94,276.5 v1.6 M211,276.5 v1.6 M218,276.5 v1.6 M222.09,276.5 v1.6 M225,276.5 v1.6 M227.25,276.5 v1.6 M229.09,276.5 v1.6 M230.65,276.5 v1.6 M232,276.5 v1.6 M233.19,276.5 v1.6 M234.25,276.5 v1.6 M241.25,276.5 v1.6 M245.34,276.5 v1.6 M248.25,276.5 v1.6 M250.5,276.5 v1.6 M252.34,276.5 v1.6 M253.9,276.5 v1.6 M255.25,276.5 v1.6 M256.44,276.5 v1.6" stroke="#444" stroke-width="0.7" fill="none"/>
<text class="s" x="0" y="0" font-size="4.7" fill="#2e2e2e" stroke="#2e2e2e" stroke-width="0.2" text-anchor="middle" transform="translate(159.8,276) rotate(-90) scale(0.78,1)">0</text>
<text class="s" x="0" y="0" font-size="4.7" fill="#2e2e2e" stroke="#2e2e2e" stroke-width="0.2" text-anchor="middle" transform="translate(159.8,262.1) rotate(-90) scale(0.78,1)">20</text>
<text class="s" x="0" y="0" font-size="4.7" fill="#2e2e2e" stroke="#2e2e2e" stroke-width="0.2" text-anchor="middle" transform="translate(159.8,248.2) rotate(-90) scale(0.78,1)">40</text>
<text class="s" x="0" y="0" font-size="4.7" fill="#2e2e2e" stroke="#2e2e2e" stroke-width="0.2" text-anchor="middle" transform="translate(159.8,234.3) rotate(-90) scale(0.78,1)">60</text>
<text class="s" x="0" y="0" font-size="4.7" fill="#2e2e2e" stroke="#2e2e2e" stroke-width="0.2" text-anchor="middle" transform="translate(159.8,220.4) rotate(-90) scale(0.78,1)">80</text>
<text class="s" x="0" y="0" font-size="4.7" fill="#2e2e2e" stroke="#2e2e2e" stroke-width="0.2" text-anchor="middle" transform="translate(159.8,206.5) rotate(-90) scale(0.78,1)">100</text>
<text class="s" x="164.7" y="283.2" font-size="5.2" fill="#2e2e2e" stroke="#2e2e2e" stroke-width="0.2" text-anchor="middle">10<tspan font-size="3.6" dy="-2.4">0</tspan></text>
<text class="s" x="187.95" y="283.2" font-size="5.2" fill="#2e2e2e" stroke="#2e2e2e" stroke-width="0.2" text-anchor="middle">10<tspan font-size="3.6" dy="-2.4">1</tspan></text>
<text class="s" x="211.2" y="283.2" font-size="5.2" fill="#2e2e2e" stroke="#2e2e2e" stroke-width="0.2" text-anchor="middle">10<tspan font-size="3.6" dy="-2.4">2</tspan></text>
<text class="s" x="234.45" y="283.2" font-size="5.2" fill="#2e2e2e" stroke="#2e2e2e" stroke-width="0.2" text-anchor="middle">10<tspan font-size="3.6" dy="-2.4">3</tspan></text>
<text class="s" x="257.7" y="283.2" font-size="5.2" fill="#2e2e2e" stroke="#2e2e2e" stroke-width="0.2" text-anchor="middle">10<tspan font-size="3.6" dy="-2.4">4</tspan></text>
<path d="M164.5,214.5 H191.4 M191.4,210.6 v7.8" stroke="#3a3a3a" stroke-width="1" fill="none"/>
<path d="M164.5,210.5 v8" stroke="#222" stroke-width="1.2" fill="none"/>
<path d="M293.1,276.5 L293.1,262.2 L293.5,260.6 L293.9,258.21 L294.3,257.4 L294.7,253.32 L295.1,252.09 L295.5,247.56 L295.9,244.85 L296.3,241.62 L296.7,239 L297.1,237.98 L297.5,234.95 L297.9,232.07 L298.3,229.17 L298.7,224.65 L299.1,223.02 L299.5,220.26 L299.9,217.04 L300.3,215.94 L300.7,212.25 L301.1,210.46 L301.5,208.24 L301.9,207 L302.3,207.78 L302.7,209.27 L303.1,209.1 L303.5,209.82 L303.9,210.79 L304.3,217.18 L304.7,222.22 L305.1,224.77 L305.5,228.51 L305.9,232.14 L306.3,234.87 L306.7,236.53 L307.1,240.93 L307.5,243.41 L307.9,244.18 L308.3,247.72 L308.7,249.64 L309.1,253.27 L309.5,256.4 L309.9,258.06 L310.3,259.15 L310.7,262.67 L311.1,263.78 L311.5,265.49 L311.9,265.18 L312.3,267.3 L312.7,268.6 L313.1,269.05 L313.5,268.65 L313.9,269.35 L314.3,269.69 L314.7,270.46 L315.1,270.67 L315.5,270.53 L315.9,270.23 L316.3,271.15 L316.7,269.83 L317.1,268.26 L317.5,269.35 L317.9,271.68 L318.3,272.1 L318.7,272.22 L319.1,272.95 L319.5,273.56 L319.9,273.2 L320.3,273.69 L320.7,274.1 L321.1,274.3 L321.5,274.19 L321.9,273.85 L322.3,273.93 L322.7,274.32 L323.1,274.41 L323.5,274.92 L323.9,274.28 L324.3,274.75 L324.7,274.74 L325.1,274.33 L325.5,274.56 L325.9,274.81 L326.3,274.75 L326.7,274.88 L327.1,275.05 L327.5,274.89 L327.9,275.17 L328.3,275.05 L328.7,275.13 L329.1,275.37 L329.5,275.3 L329.9,275.3 L330.3,275.31 L330.7,275.31 L331.1,275.31 L331.5,275.31 L331.9,275.31 L332.3,275.32 L332.7,275.32 L333.1,275.32 L333.5,275.32 L333.9,275.32 L334.3,275.33 L334.7,275.33 L335.1,275.33 L335.5,275.33 L335.9,275.33 L336.3,275.34 L336.7,275.34 L337.1,275.34 L337.5,275.34 L337.9,275.35 L338.3,275.35 L338.7,275.35 L339.1,275.35 L339.5,275.35 L339.9,275.36 L340.3,275.36 L340.7,275.36 L341.1,275.36 L341.5,275.36 L341.9,275.37 L342.3,275.37 L342.7,275.37 L343.1,275.37 L343.5,275.37 L343.9,275.38 L344.3,275.38 L344.7,275.38 L345.1,275.38 L345.5,275.38 L345.9,275.39 L346.3,275.39 L346.7,275.39 L347.1,275.39 L347.5,275.39 L347.9,275.4 L348.3,275.4 L348.7,275.4 L349.1,275.4 L349.5,275.41 L349.9,275.41 L350.3,275.41 L350.7,275.41 L351.1,275.41 L351.5,275.42 L351.9,275.42 L352.3,275.42 L352.7,275.42 L353.1,275.42 L353.5,275.43 L353.9,275.43 L354.3,275.43 L354.7,275.43 L355.1,275.43 L355.5,275.44 L355.9,275.44 L356.3,275.44 L356.7,275.44 L357.1,275.44 L357.5,275.45 L357.9,275.45 L358.3,275.45 L358.7,275.45 L359.1,275.46 L359.5,275.46 L359.9,275.46 L360.3,275.46 L360.7,275.46 L361.1,275.47 L361.5,275.47 L361.9,275.47 L362.3,275.47 L362.7,275.47 L363.1,275.48 L363.5,275.48 L363.9,275.48 L364.3,275.48 L364.7,275.48 L365.1,275.49 L365.5,275.49 L365.9,275.49 L366.3,275.49 L366.7,275.49 L367.1,275.5 L367.5,275.5 L367.9,275.5 L368.3,275.5 L368.7,275.51 L369.1,275.51 L369.5,275.51 L369.9,275.51 L370.3,275.51 L370.7,275.52 L371.1,275.52 L371.5,275.52 L371.9,275.52 L372.3,275.52 L372.7,275.53 L373.1,275.53 L373.5,275.53 L373.9,275.53 L374.3,275.53 L374.7,275.54 L375.1,275.54 L375.5,275.54 L375.9,275.54 L376.3,275.54 L376.7,275.55 L377.1,275.55 L377.5,275.55 L377.9,275.55 L378.3,275.55 L378.7,275.56 L379.1,275.56 L379.5,275.56 L379.9,275.56 L380.3,275.57 L380.7,275.57 L381.1,275.57 L381.5,275.57 L381.9,275.57 L382.3,275.58 L382.7,275.58 L383.1,275.58 L383.5,275.58 L383.9,275.58 L384.3,275.59 L384.7,275.59 L385.1,275.59 L385.5,275.59 L385.9,275.59 L386.3,275.6 L386.7,275.6 L387,275.6 L387,276.5 Z" fill="#1f1f1f"/>
<path d="M292.5,206.5 H387.5 V278" fill="none" stroke="#555" stroke-width="1"/>
<line x1="292.5" y1="206.5" x2="292.5" y2="276.5" stroke="#4a4a4a" stroke-width="1"/>
<line x1="292.5" y1="276.5" x2="387.5" y2="276.5" stroke="#111" stroke-width="1.3"/>
<path d="M292.3,206.5 h-1.6 M292.3,209.09 h-1.6 M292.3,211.69 h-1.6 M292.3,214.28 h-1.6 M292.3,216.87 h-1.6 M292.3,219.46 h-1.6 M292.3,222.06 h-1.6 M292.3,224.65 h-1.6 M292.3,227.24 h-1.6 M292.3,229.83 h-1.6 M292.3,232.43 h-1.6 M292.3,235.02 h-1.6 M292.3,237.61 h-1.6 M292.3,240.2 h-1.6 M292.3,242.8 h-1.6 M292.3,245.39 h-1.6 M292.3,247.98 h-1.6 M292.3,250.57 h-1.6 M292.3,253.17 h-1.6 M292.3,255.76 h-1.6 M292.3,258.35 h-1.6 M292.3,260.94 h-1.6 M292.3,263.54 h-1.6 M292.3,266.13 h-1.6 M292.3,268.72 h-1.6 M292.3,271.31 h-1.6 M292.3,273.91 h-1.6 M292.3,276.5 h-1.6" stroke="#3a3a3a" stroke-width="0.9" fill="none"/>
<path d="M292.5,277 v1.6 M299.65,277 v1.6 M303.83,277 v1.6 M306.8,277 v1.6 M309.1,277 v1.6 M310.98,277 v1.6 M312.57,277 v1.6 M313.95,277 v1.6 M315.16,277 v1.6 M316.25,277 v1.6 M323.4,277 v1.6 M327.58,277 v1.6 M330.55,277 v1.6 M332.85,277 v1.6 M334.73,277 v1.6 M336.32,277 v1.6 M337.7,277 v1.6 M338.91,277 v1.6 M340,277 v1.6 M347.15,277 v1.6 M351.33,277 v1.6 M354.3,277 v1.6 M356.6,277 v1.6 M358.48,277 v1.6 M360.07,277 v1.6 M361.45,277 v1.6 M362.66,277 v1.6 M363.75,277 v1.6 M370.9,277 v1.6 M375.08,277 v1.6 M378.05,277 v1.6 M380.35,277 v1.6 M382.23,277 v1.6 M383.82,277 v1.6 M385.2,277 v1.6 M386.41,277 v1.6" stroke="#444" stroke-width="0.7" fill="none"/>
<text class="s" x="0" y="0" font-size="4.7" fill="#2e2e2e" stroke="#2e2e2e" stroke-width="0.2" text-anchor="middle" transform="translate(287.8,276.5) rotate(-90) scale(0.78,1)">0</text>
<text class="s" x="0" y="0" font-size="4.7" fill="#2e2e2e" stroke="#2e2e2e" stroke-width="0.2" text-anchor="middle" transform="translate(287.8,262.5) rotate(-90) scale(0.78,1)">20</text>
<text class="s" x="0" y="0" font-size="4.7" fill="#2e2e2e" stroke="#2e2e2e" stroke-width="0.2" text-anchor="middle" transform="translate(287.8,248.5) rotate(-90) scale(0.78,1)">40</text>
<text class="s" x="0" y="0" font-size="4.7" fill="#2e2e2e" stroke="#2e2e2e" stroke-width="0.2" text-anchor="middle" transform="translate(287.8,234.5) rotate(-90) scale(0.78,1)">60</text>
<text class="s" x="0" y="0" font-size="4.7" fill="#2e2e2e" stroke="#2e2e2e" stroke-width="0.2" text-anchor="middle" transform="translate(287.8,220.5) rotate(-90) scale(0.78,1)">80</text>
<text class="s" x="0" y="0" font-size="4.7" fill="#2e2e2e" stroke="#2e2e2e" stroke-width="0.2" text-anchor="middle" transform="translate(287.8,206.5) rotate(-90) scale(0.78,1)">100</text>
<text class="s" x="292.7" y="283.7" font-size="5.2" fill="#2e2e2e" stroke="#2e2e2e" stroke-width="0.2" text-anchor="middle">10<tspan font-size="3.6" dy="-2.4">0</tspan></text>
<text class="s" x="316.45" y="283.7" font-size="5.2" fill="#2e2e2e" stroke="#2e2e2e" stroke-width="0.2" text-anchor="middle">10<tspan font-size="3.6" dy="-2.4">1</tspan></text>
<text class="s" x="340.2" y="283.7" font-size="5.2" fill="#2e2e2e" stroke="#2e2e2e" stroke-width="0.2" text-anchor="middle">10<tspan font-size="3.6" dy="-2.4">2</tspan></text>
<text class="s" x="363.95" y="283.7" font-size="5.2" fill="#2e2e2e" stroke="#2e2e2e" stroke-width="0.2" text-anchor="middle">10<tspan font-size="3.6" dy="-2.4">3</tspan></text>
<text class="s" x="387.7" y="283.7" font-size="5.2" fill="#2e2e2e" stroke="#2e2e2e" stroke-width="0.2" text-anchor="middle">10<tspan font-size="3.6" dy="-2.4">4</tspan></text>
<path d="M292.5,211.5 H314.8 M314.8,207.6 v7.8" stroke="#3a3a3a" stroke-width="1" fill="none"/>
<path d="M292.5,207.5 v8" stroke="#222" stroke-width="1.2" fill="none"/>
<path d="M421.5,275.3 L421.5,274.4 L421.9,274.36 L422.3,274.32 L422.7,274.28 L423.1,274.23 L423.5,274.19 L423.9,274.15 L424.3,274.11 L424.7,273.91 L425.1,274.1 L425.5,274.41 L425.9,273.94 L426.3,273.85 L426.7,274.06 L427.1,273.7 L427.5,274.08 L427.9,273.34 L428.3,273.87 L428.7,273.48 L429.1,273.35 L429.5,274.11 L429.9,273.24 L430.3,274.03 L430.7,273.64 L431.1,273.86 L431.5,273.02 L431.9,273.7 L432.3,273.75 L432.7,273.17 L433.1,273.13 L433.5,273.99 L433.9,273.15 L434.3,272.89 L434.7,272.77 L435.1,273.12 L435.5,273.04 L435.9,272.94 L436.3,273.47 L436.7,272.66 L437.1,272.92 L437.5,273.26 L437.9,272.27 L438.3,273.02 L438.7,273.29 L439.1,272 L439.5,272.05 L439.9,272.03 L440.3,271.66 L440.7,272.55 L441.1,271.56 L441.5,272.48 L441.9,272.84 L442.3,271.52 L442.7,272.02 L443.1,271.29 L443.5,272.4 L443.9,271.71 L444.3,271.87 L444.7,271.96 L445.1,272.13 L445.5,271.7 L445.9,271.82 L446.3,271.37 L446.7,271.47 L447.1,270.67 L447.5,271.06 L447.9,269.87 L448.3,270.39 L448.7,271.45 L449.1,270.3 L449.5,269.38 L449.9,270.01 L450.3,268.96 L450.7,268.14 L451.1,268.27 L451.5,268.78 L451.9,268.17 L452.3,267.46 L452.7,266.5 L453.1,265.98 L453.5,266.46 L453.9,264.38 L454.3,262.12 L454.7,259.79 L455.1,261.58 L455.5,265.81 L455.9,264.03 L456.3,265.36 L456.7,264.35 L457.1,262.81 L457.5,261.47 L457.9,259.22 L458.3,258.25 L458.7,259.74 L459.1,256.13 L459.5,256.61 L459.9,252.71 L460.3,253.06 L460.7,252.03 L461.1,251.33 L461.5,247.08 L461.9,247.58 L462.3,245.69 L462.7,242.65 L463.1,242.73 L463.5,239.26 L463.9,237.82 L464.3,237.37 L464.7,232.56 L465.1,235.82 L465.5,233.89 L465.9,232.6 L466.3,233.57 L466.7,234.88 L467.1,232.67 L467.5,234.83 L467.9,230.65 L468.3,229.99 L468.7,234.07 L469.1,231.9 L469.5,232.39 L469.9,229.21 L470.3,231.94 L470.7,231.39 L471.1,232.31 L471.5,231.64 L471.9,233.8 L472.3,231.21 L472.7,231.04 L473.1,230.56 L473.5,235.57 L473.9,233.84 L474.3,234.56 L474.7,235.89 L475.1,237.79 L475.5,238 L475.9,240.97 L476.3,242.11 L476.7,243.81 L477.1,244.89 L477.5,247.74 L477.9,248.72 L478.3,251.18 L478.7,253.09 L479.1,254.94 L479.5,254.08 L479.9,257.58 L480.3,258.59 L480.7,261.12 L481.1,260.08 L481.5,261.93 L481.9,263.36 L482.3,264.4 L482.7,266.46 L483.1,266.23 L483.5,268 L483.9,267.24 L484.3,267.9 L484.7,270.47 L485.1,270.83 L485.5,271.33 L485.9,271.52 L486.3,272.05 L486.7,271.7 L487.1,272.95 L487.5,272.75 L487.9,273.65 L488.3,273.54 L488.7,272.9 L489.1,273.13 L489.5,273.9 L489.9,273.52 L490.3,273.45 L490.7,273.66 L491.1,273.47 L491.5,273.45 L491.9,273.66 L492.3,273.69 L492.7,274.12 L493.1,273.68 L493.5,274.25 L493.9,274.24 L494.3,274.22 L494.7,274.04 L495.1,273.77 L495.5,273.79 L495.9,273.72 L496.3,273.56 L496.7,273.76 L497.1,273.61 L497.5,274.28 L497.9,273.98 L498.3,273.71 L498.7,273.3 L499.1,273.85 L499.5,273.76 L499.9,273.58 L500.3,273.58 L500.7,273.29 L501.1,274.08 L501.5,273.92 L501.9,274.66 L502.3,273.96 L502.7,273.94 L503.1,274.38 L503.5,274.04 L503.9,274.06 L504.3,273.93 L504.7,273.88 L505.1,274.45 L505.5,274.33 L505.9,274.53 L506.3,274 L506.7,274.11 L507.1,274.12 L507.5,274.13 L507.9,274.15 L508.3,274.16 L508.7,274.17 L509.1,274.19 L509.5,274.2 L509.9,274.21 L510.3,274.22 L510.7,274.24 L511.1,274.25 L511.5,274.26 L511.9,274.28 L512.3,274.29 L512.7,274.3 L513.1,274.32 L513.5,274.33 L513.9,274.34 L514.3,274.35 L514.7,274.37 L515.1,274.38 L515.5,274.39 L515.8,274.4 L515.8,275.3 Z" fill="#1f1f1f"/>
<path d="M421.5,206.5 H516.5 V276.8" fill="none" stroke="#555" stroke-width="1"/>
<line x1="421.5" y1="206.5" x2="421.5" y2="275.3" stroke="#4a4a4a" stroke-width="1"/>
<line x1="421.5" y1="275.3" x2="516.5" y2="275.3" stroke="#111" stroke-width="1.3"/>
<path d="M421.3,206.5 h-1.6 M421.3,209.05 h-1.6 M421.3,211.6 h-1.6 M421.3,214.14 h-1.6 M421.3,216.69 h-1.6 M421.3,219.24 h-1.6 M421.3,221.79 h-1.6 M421.3,224.34 h-1.6 M421.3,226.89 h-1.6 M421.3,229.43 h-1.6 M421.3,231.98 h-1.6 M421.3,234.53 h-1.6 M421.3,237.08 h-1.6 M421.3,239.63 h-1.6 M421.3,242.17 h-1.6 M421.3,244.72 h-1.6 M421.3,247.27 h-1.6 M421.3,249.82 h-1.6 M421.3,252.37 h-1.6 M421.3,254.91 h-1.6 M421.3,257.46 h-1.6 M421.3,260.01 h-1.6 M421.3,262.56 h-1.6 M421.3,265.11 h-1.6 M421.3,267.66 h-1.6 M421.3,270.2 h-1.6 M421.3,272.75 h-1.6 M421.3,275.3 h-1.6" stroke="#3a3a3a" stroke-width="0.9" fill="none"/>
<path d="M421.5,275.8 v1.6 M428.65,275.8 v1.6 M432.83,275.8 v1.6 M435.8,275.8 v1.6 M438.1,275.8 v1.6 M439.98,275.8 v1.6 M441.57,275.8 v1.6 M442.95,275.8 v1.6 M444.16,275.8 v1.6 M445.25,275.8 v1.6 M452.4,275.8 v1.6 M456.58,275.8 v1.6 M459.55,275.8 v1.6 M461.85,275.8 v1.6 M463.73,275.8 v1.6 M465.32,275.8 v1.6 M466.7,275.8 v1.6 M467.91,275.8 v1.6 M469,275.8 v1.6 M476.15,275.8 v1.6 M480.33,275.8 v1.6 M483.3,275.8 v1.6 M485.6,275.8 v1.6 M487.48,275.8 v1.6 M489.07,275.8 v1.6 M490.45,275.8 v1.6 M491.66,275.8 v1.6 M492.75,275.8 v1.6 M499.9,275.8 v1.6 M504.08,275.8 v1.6 M507.05,275.8 v1.6 M509.35,275.8 v1.6 M511.23,275.8 v1.6 M512.82,275.8 v1.6 M514.2,275.8 v1.6 M515.41,275.8 v1.6" stroke="#444" stroke-width="0.7" fill="none"/>
<text class="s" x="0" y="0" font-size="4.7" fill="#2e2e2e" stroke="#2e2e2e" stroke-width="0.2" text-anchor="middle" transform="translate(416.8,275.3) rotate(-90) scale(0.78,1)">0</text>
<text class="s" x="0" y="0" font-size="4.7" fill="#2e2e2e" stroke="#2e2e2e" stroke-width="0.2" text-anchor="middle" transform="translate(416.8,261.54) rotate(-90) scale(0.78,1)">20</text>
<text class="s" x="0" y="0" font-size="4.7" fill="#2e2e2e" stroke="#2e2e2e" stroke-width="0.2" text-anchor="middle" transform="translate(416.8,247.78) rotate(-90) scale(0.78,1)">40</text>
<text class="s" x="0" y="0" font-size="4.7" fill="#2e2e2e" stroke="#2e2e2e" stroke-width="0.2" text-anchor="middle" transform="translate(416.8,234.02) rotate(-90) scale(0.78,1)">60</text>
<text class="s" x="0" y="0" font-size="4.7" fill="#2e2e2e" stroke="#2e2e2e" stroke-width="0.2" text-anchor="middle" transform="translate(416.8,220.26) rotate(-90) scale(0.78,1)">80</text>
<text class="s" x="0" y="0" font-size="4.7" fill="#2e2e2e" stroke="#2e2e2e" stroke-width="0.2" text-anchor="middle" transform="translate(416.8,206.5) rotate(-90) scale(0.78,1)">100</text>
<text class="s" x="421.7" y="282.5" font-size="5.2" fill="#2e2e2e" stroke="#2e2e2e" stroke-width="0.2" text-anchor="middle">10<tspan font-size="3.6" dy="-2.4">0</tspan></text>
<text class="s" x="445.45" y="282.5" font-size="5.2" fill="#2e2e2e" stroke="#2e2e2e" stroke-width="0.2" text-anchor="middle">10<tspan font-size="3.6" dy="-2.4">1</tspan></text>
<text class="s" x="469.2" y="282.5" font-size="5.2" fill="#2e2e2e" stroke="#2e2e2e" stroke-width="0.2" text-anchor="middle">10<tspan font-size="3.6" dy="-2.4">2</tspan></text>
<text class="s" x="492.95" y="282.5" font-size="5.2" fill="#2e2e2e" stroke="#2e2e2e" stroke-width="0.2" text-anchor="middle">10<tspan font-size="3.6" dy="-2.4">3</tspan></text>
<text class="s" x="516.7" y="282.5" font-size="5.2" fill="#2e2e2e" stroke="#2e2e2e" stroke-width="0.2" text-anchor="middle">10<tspan font-size="3.6" dy="-2.4">4</tspan></text>
<path d="M421.5,214.5 H450.5 M450.5,210.6 v7.8" stroke="#3a3a3a" stroke-width="1" fill="none"/>
<path d="M421.5,210.5 v8" stroke="#222" stroke-width="1.2" fill="none"/>
<path d="M37,377.5 L37,377 L37.4,376.3 L37.8,375.36 L38.2,375.18 L38.6,373.69 L39,373.3 L39.4,372.34 L39.8,371.32 L40.2,368.77 L40.6,368.5 L41,365.98 L41.4,364.49 L41.8,362.5 L42.2,362.76 L42.6,361.63 L43,358.29 L43.4,356.54 L43.8,355.27 L44.2,356.25 L44.6,353.28 L45,350.17 L45.4,346.69 L45.8,345.64 L46.2,345.48 L46.6,344.11 L47,339.02 L47.4,335.83 L47.8,334 L48.2,330.41 L48.6,330.13 L49,326.41 L49.4,330.97 L49.8,325.93 L50.2,324.07 L50.6,324.18 L51,321.84 L51.4,323.14 L51.8,321.3 L52.2,318.98 L52.6,320.92 L53,320.62 L53.4,317.18 L53.8,323.08 L54.2,321.71 L54.6,323.14 L55,320.53 L55.4,323.2 L55.8,324.97 L56.2,328.67 L56.6,327.07 L57,329.54 L57.4,329.79 L57.8,334.14 L58.2,337.05 L58.6,336.82 L59,340.32 L59.4,343.85 L59.8,347.26 L60.2,348.53 L60.6,349.83 L61,351.58 L61.4,354.51 L61.8,357.44 L62.2,360.91 L62.6,363.56 L63,366.82 L63.4,367.37 L63.8,368.06 L64.2,370.93 L64.6,371.46 L65,371.71 L65.4,372.02 L65.8,372.25 L66.2,373.29 L66.6,374.39 L67,373.93 L67.4,373.9 L67.8,374.55 L68.2,374.7 L68.6,374.96 L69,375.1 L69.4,375.46 L69.8,374.94 L70.2,375.6 L70.6,375.19 L71,375.78 L71.4,375.66 L71.8,375.68 L72.2,375.88 L72.6,375.63 L73,375.93 L73.4,375.88 L73.8,375.69 L74.2,375.52 L74.6,375.48 L75,375.55 L75.4,375.64 L75.8,375.69 L76.2,376.46 L76.6,375.88 L77,375.92 L77.4,375.52 L77.8,375.56 L78.2,375.67 L78.6,375.81 L79,375.51 L79.4,376.18 L79.8,375.64 L80.2,376.06 L80.6,375.22 L81,375.81 L81.4,375.88 L81.8,375.87 L82.2,375.98 L82.6,375.91 L83,375.89 L83.4,375.4 L83.8,375.69 L84.2,375.31 L84.6,376.03 L85,375.96 L85.4,375.85 L85.8,375.71 L86.2,375.78 L86.6,376.36 L87,376.34 L87.4,375.93 L87.8,376.25 L88.2,375.58 L88.6,375.51 L89,375.86 L89.4,375.78 L89.8,375.86 L90.2,376.04 L90.6,376.71 L91,375.86 L91.4,376.03 L91.8,376.09 L92.2,376.03 L92.6,376.26 L93,376.46 L93.4,375.78 L93.8,376.11 L94.2,376.02 L94.6,376.17 L95,375.75 L95.4,375.71 L95.8,375.6 L96.2,376.24 L96.6,376.17 L97,376.15 L97.4,375.62 L97.8,376.07 L98.2,376 L98.6,375.86 L99,375.98 L99.4,376.34 L99.8,376.31 L100.2,376.2 L100.6,376.32 L101,376.09 L101.4,376.24 L101.8,376.24 L102.2,376.36 L102.6,376.23 L103,376.22 L103.4,376.23 L103.8,376.13 L104.2,376.74 L104.6,376.39 L105,376.37 L105.4,376.77 L105.8,376.59 L106.2,376.31 L106.6,376.31 L107,376.32 L107.4,376.33 L107.8,376.33 L108.2,376.34 L108.6,376.35 L109,376.35 L109.4,376.36 L109.8,376.37 L110.2,376.37 L110.6,376.38 L111,376.39 L111.4,376.39 L111.8,376.4 L112.2,376.41 L112.6,376.41 L113,376.42 L113.4,376.43 L113.8,376.43 L114.2,376.44 L114.6,376.45 L115,376.45 L115.4,376.46 L115.8,376.47 L116.2,376.47 L116.6,376.48 L117,376.49 L117.4,376.49 L117.8,376.5 L118.2,376.51 L118.6,376.52 L119,376.52 L119.4,376.53 L119.8,376.54 L120.2,376.54 L120.6,376.55 L121,376.56 L121.4,376.56 L121.8,376.57 L122.2,376.58 L122.6,376.58 L123,376.59 L123.4,376.6 L123.8,376.6 L124.2,376.61 L124.6,376.62 L125,376.62 L125.4,376.63 L125.8,376.64 L126.2,376.64 L126.6,376.65 L127,376.66 L127.4,376.66 L127.8,376.67 L128.2,376.68 L128.6,376.68 L129,376.69 L129.4,376.7 L129.5,376.7 L129.5,377.5 Z" fill="#1f1f1f"/>
<path d="M36.5,307.5 H130.5 V379" fill="none" stroke="#555" stroke-width="1"/>
<line x1="36.5" y1="307.5" x2="36.5" y2="377.5" stroke="#4a4a4a" stroke-width="1"/>
<line x1="36.5" y1="377.5" x2="130.5" y2="377.5" stroke="#111" stroke-width="1.3"/>
<path d="M36.3,307.5 h-1.6 M36.3,310.09 h-1.6 M36.3,312.69 h-1.6 M36.3,315.28 h-1.6 M36.3,317.87 h-1.6 M36.3,320.46 h-1.6 M36.3,323.06 h-1.6 M36.3,325.65 h-1.6 M36.3,328.24 h-1.6 M36.3,330.83 h-1.6 M36.3,333.43 h-1.6 M36.3,336.02 h-1.6 M36.3,338.61 h-1.6 M36.3,341.2 h-1.6 M36.3,343.8 h-1.6 M36.3,346.39 h-1.6 M36.3,348.98 h-1.6 M36.3,351.57 h-1.6 M36.3,354.17 h-1.6 M36.3,356.76 h-1.6 M36.3,359.35 h-1.6 M36.3,361.94 h-1.6 M36.3,364.54 h-1.6 M36.3,367.13 h-1.6 M36.3,369.72 h-1.6 M36.3,372.31 h-1.6 M36.3,374.91 h-1.6 M36.3,377.5 h-1.6" stroke="#3a3a3a" stroke-width="0.9" fill="none"/>
<path d="M36.5,378 v1.6 M43.57,378 v1.6 M47.71,378 v1.6 M50.65,378 v1.6 M52.93,378 v1.6 M54.79,378 v1.6 M56.36,378 v1.6 M57.72,378 v1.6 M58.92,378 v1.6 M60,378 v1.6 M67.07,378 v1.6 M71.21,378 v1.6 M74.15,378 v1.6 M76.43,378 v1.6 M78.29,378 v1.6 M79.86,378 v1.6 M81.22,378 v1.6 M82.42,378 v1.6 M83.5,378 v1.6 M90.57,378 v1.6 M94.71,378 v1.6 M97.65,378 v1.6 M99.93,378 v1.6 M101.79,378 v1.6 M103.36,378 v1.6 M104.72,378 v1.6 M105.92,378 v1.6 M107,378 v1.6 M114.07,378 v1.6 M118.21,378 v1.6 M121.15,378 v1.6 M123.43,378 v1.6 M125.29,378 v1.6 M126.86,378 v1.6 M128.22,378 v1.6 M129.42,378 v1.6" stroke="#444" stroke-width="0.7" fill="none"/>
<text class="s" x="0" y="0" font-size="4.7" fill="#2e2e2e" stroke="#2e2e2e" stroke-width="0.2" text-anchor="middle" transform="translate(31.8,377.5) rotate(-90) scale(0.78,1)">0</text>
<text class="s" x="0" y="0" font-size="4.7" fill="#2e2e2e" stroke="#2e2e2e" stroke-width="0.2" text-anchor="middle" transform="translate(31.8,363.5) rotate(-90) scale(0.78,1)">20</text>
<text class="s" x="0" y="0" font-size="4.7" fill="#2e2e2e" stroke="#2e2e2e" stroke-width="0.2" text-anchor="middle" transform="translate(31.8,349.5) rotate(-90) scale(0.78,1)">40</text>
<text class="s" x="0" y="0" font-size="4.7" fill="#2e2e2e" stroke="#2e2e2e" stroke-width="0.2" text-anchor="middle" transform="translate(31.8,335.5) rotate(-90) scale(0.78,1)">60</text>
<text class="s" x="0" y="0" font-size="4.7" fill="#2e2e2e" stroke="#2e2e2e" stroke-width="0.2" text-anchor="middle" transform="translate(31.8,321.5) rotate(-90) scale(0.78,1)">80</text>
<text class="s" x="0" y="0" font-size="4.7" fill="#2e2e2e" stroke="#2e2e2e" stroke-width="0.2" text-anchor="middle" transform="translate(31.8,307.5) rotate(-90) scale(0.78,1)">100</text>
<text class="s" x="36.7" y="384.7" font-size="5.2" fill="#2e2e2e" stroke="#2e2e2e" stroke-width="0.2" text-anchor="middle">10<tspan font-size="3.6" dy="-2.4">0</tspan></text>
<text class="s" x="60.2" y="384.7" font-size="5.2" fill="#2e2e2e" stroke="#2e2e2e" stroke-width="0.2" text-anchor="middle">10<tspan font-size="3.6" dy="-2.4">1</tspan></text>
<text class="s" x="83.7" y="384.7" font-size="5.2" fill="#2e2e2e" stroke="#2e2e2e" stroke-width="0.2" text-anchor="middle">10<tspan font-size="3.6" dy="-2.4">2</tspan></text>
<text class="s" x="107.2" y="384.7" font-size="5.2" fill="#2e2e2e" stroke="#2e2e2e" stroke-width="0.2" text-anchor="middle">10<tspan font-size="3.6" dy="-2.4">3</tspan></text>
<text class="s" x="130.7" y="384.7" font-size="5.2" fill="#2e2e2e" stroke="#2e2e2e" stroke-width="0.2" text-anchor="middle">10<tspan font-size="3.6" dy="-2.4">4</tspan></text>
<path d="M36.5,315.5 H64.6 M64.6,311.6 v7.8" stroke="#3a3a3a" stroke-width="1" fill="none"/>
<path d="M36.5,311.5 v8" stroke="#222" stroke-width="1.2" fill="none"/>
<path d="M164,377.3 L164,376.4 L164.4,376.38 L164.8,376.35 L165.2,376.32 L165.6,376.3 L166,376.27 L166.4,376.25 L166.8,376.22 L167.2,376.19 L167.6,376.17 L168,376.14 L168.4,376.11 L168.8,375.84 L169.2,376.17 L169.6,376.17 L170,376.31 L170.4,376.2 L170.8,376.08 L171.2,375.73 L171.6,375.76 L172,375.92 L172.4,375.94 L172.8,375.65 L173.2,375.73 L173.6,375.7 L174,375.76 L174.4,375.78 L174.8,375.64 L175.2,375.44 L175.6,375.87 L176,375.91 L176.4,375.57 L176.8,375.76 L177.2,375.62 L177.6,375.64 L178,375.58 L178.4,375.31 L178.8,375.54 L179.2,375.6 L179.6,375.2 L180,375.74 L180.4,375.74 L180.8,375.67 L181.2,375.68 L181.6,375.4 L182,375.15 L182.4,375.07 L182.8,375 L183.2,375.17 L183.6,375.11 L184,375.23 L184.4,374.63 L184.8,375.53 L185.2,375.5 L185.6,374.98 L186,375.11 L186.4,375.04 L186.8,374.97 L187.2,374.46 L187.6,374.08 L188,373.49 L188.4,373.36 L188.8,372.91 L189.2,372.61 L189.6,371.84 L190,371.57 L190.4,370.56 L190.8,369.77 L191.2,368.06 L191.6,367.68 L192,366.95 L192.4,365.81 L192.8,364.36 L193.2,363.32 L193.6,362.48 L194,362.06 L194.4,361.96 L194.8,360.4 L195.2,359.53 L195.6,359.56 L196,358.88 L196.4,357.61 L196.8,357.14 L197.2,356.22 L197.6,355.19 L198,352.34 L198.4,350.88 L198.8,350.43 L199.2,346.58 L199.6,344.11 L200,340.82 L200.4,336.92 L200.8,332.25 L201.2,329.35 L201.6,325.26 L202,322.38 L202.4,317.6 L202.8,316.24 L203.2,310.16 L203.6,310.69 L204,309.7 L204.4,309.63 L204.8,308 L205.2,309.29 L205.6,308.24 L206,310.03 L206.4,312.46 L206.8,312.28 L207.2,315.53 L207.6,316.3 L208,321.43 L208.4,325.47 L208.8,328.08 L209.2,330.78 L209.6,336.72 L210,342.04 L210.4,346.63 L210.8,350.73 L211.2,352.23 L211.6,356.44 L212,361.1 L212.4,362.99 L212.8,365.64 L213.2,367.39 L213.6,368.28 L214,369.83 L214.4,370.7 L214.8,370.73 L215.2,371.46 L215.6,371.77 L216,372.17 L216.4,372.74 L216.8,372.82 L217.2,373.26 L217.6,373.66 L218,373.88 L218.4,374.68 L218.8,374.43 L219.2,374.36 L219.6,374.31 L220,374.23 L220.4,374.72 L220.8,374.45 L221.2,374.18 L221.6,374.32 L222,374.44 L222.4,374.39 L222.8,374.77 L223.2,374.26 L223.6,374.67 L224,374.6 L224.4,374.31 L224.8,374.62 L225.2,374.6 L225.6,374.76 L226,374.56 L226.4,374.75 L226.8,374.32 L227.2,374.47 L227.6,374.92 L228,374.99 L228.4,374.77 L228.8,374.66 L229.2,375.06 L229.6,374.37 L230,374.68 L230.4,375.02 L230.8,375.04 L231.2,374.68 L231.6,374.52 L232,375.26 L232.4,375 L232.8,374.79 L233.2,375.02 L233.6,375.22 L234,374.49 L234.4,375.3 L234.8,375.24 L235.2,374.66 L235.6,375.28 L236,374.76 L236.4,375.39 L236.8,375.26 L237.2,375.66 L237.6,375.09 L238,375.23 L238.4,375.46 L238.8,375.14 L239.2,375.15 L239.6,375.23 L240,375.31 L240.4,375.13 L240.8,375.46 L241.2,375.49 L241.6,375.42 L242,375.75 L242.4,375.38 L242.8,375.71 L243.2,375.37 L243.6,375.64 L244,375.15 L244.4,375.57 L244.8,375.52 L245.2,375.48 L245.6,375.48 L246,375.55 L246.4,375.5 L246.8,375.25 L247.2,375.56 L247.6,375.59 L248,375.61 L248.4,375.54 L248.8,375.72 L249.2,375.9 L249.6,375.74 L250,375.71 L250.4,376.05 L250.8,376.01 L251.2,376.01 L251.6,376.07 L252,375.84 L252.4,375.89 L252.8,376.12 L253.2,375.86 L253.6,375.95 L254,376.05 L254.4,376.07 L254.8,375.98 L255.2,376.2 L255.6,376.04 L256,376.2 L256.4,376.1 L256.8,376.12 L257.2,376.14 L257.6,376.16 L258,376.18 L258.4,376.2 L258.5,376.2 L258.5,377.3 Z" fill="#1f1f1f"/>
<path d="M163.5,307.5 H258.5 V378.8" fill="none" stroke="#555" stroke-width="1"/>
<line x1="163.5" y1="307.5" x2="163.5" y2="377.3" stroke="#4a4a4a" stroke-width="1"/>
<line x1="163.5" y1="377.3" x2="258.5" y2="377.3" stroke="#111" stroke-width="1.3"/>
<path d="M163.3,307.5 h-1.6 M163.3,310.09 h-1.6 M163.3,312.67 h-1.6 M163.3,315.26 h-1.6 M163.3,317.84 h-1.6 M163.3,320.43 h-1.6 M163.3,323.01 h-1.6 M163.3,325.6 h-1.6 M163.3,328.18 h-1.6 M163.3,330.77 h-1.6 M163.3,333.35 h-1.6 M163.3,335.94 h-1.6 M163.3,338.52 h-1.6 M163.3,341.11 h-1.6 M163.3,343.69 h-1.6 M163.3,346.28 h-1.6 M163.3,348.86 h-1.6 M163.3,351.45 h-1.6 M163.3,354.03 h-1.6 M163.3,356.62 h-1.6 M163.3,359.2 h-1.6 M163.3,361.79 h-1.6 M163.3,364.37 h-1.6 M163.3,366.96 h-1.6 M163.3,369.54 h-1.6 M163.3,372.13 h-1.6 M163.3,374.71 h-1.6 M163.3,377.3 h-1.6" stroke="#3a3a3a" stroke-width="0.9" fill="none"/>
<path d="M163.5,377.8 v1.6 M170.65,377.8 v1.6 M174.83,377.8 v1.6 M177.8,377.8 v1.6 M180.1,377.8 v1.6 M181.98,377.8 v1.6 M183.57,377.8 v1.6 M184.95,377.8 v1.6 M186.16,377.8 v1.6 M187.25,377.8 v1.6 M194.4,377.8 v1.6 M198.58,377.8 v1.6 M201.55,377.8 v1.6 M203.85,377.8 v1.6 M205.73,377.8 v1.6 M207.32,377.8 v1.6 M208.7,377.8 v1.6 M209.91,377.8 v1.6 M211,377.8 v1.6 M218.15,377.8 v1.6 M222.33,377.8 v1.6 M225.3,377.8 v1.6 M227.6,377.8 v1.6 M229.48,377.8 v1.6 M231.07,377.8 v1.6 M232.45,377.8 v1.6 M233.66,377.8 v1.6 M234.75,377.8 v1.6 M241.9,377.8 v1.6 M246.08,377.8 v1.6 M249.05,377.8 v1.6 M251.35,377.8 v1.6 M253.23,377.8 v1.6 M254.82,377.8 v1.6 M256.2,377.8 v1.6 M257.41,377.8 v1.6" stroke="#444" stroke-width="0.7" fill="none"/>
<text class="s" x="0" y="0" font-size="4.7" fill="#2e2e2e" stroke="#2e2e2e" stroke-width="0.2" text-anchor="middle" transform="translate(158.8,377.3) rotate(-90) scale(0.78,1)">0</text>
<text class="s" x="0" y="0" font-size="4.7" fill="#2e2e2e" stroke="#2e2e2e" stroke-width="0.2" text-anchor="middle" transform="translate(158.8,363.34) rotate(-90) scale(0.78,1)">20</text>
<text class="s" x="0" y="0" font-size="4.7" fill="#2e2e2e" stroke="#2e2e2e" stroke-width="0.2" text-anchor="middle" transform="translate(158.8,349.38) rotate(-90) scale(0.78,1)">40</text>
<text class="s" x="0" y="0" font-size="4.7" fill="#2e2e2e" stroke="#2e2e2e" stroke-width="0.2" text-anchor="middle" transform="translate(158.8,335.42) rotate(-90) scale(0.78,1)">60</text>
<text class="s" x="0" y="0" font-size="4.7" fill="#2e2e2e" stroke="#2e2e2e" stroke-width="0.2" text-anchor="middle" transform="translate(158.8,321.46) rotate(-90) scale(0.78,1)">80</text>
<text class="s" x="0" y="0" font-size="4.7" fill="#2e2e2e" stroke="#2e2e2e" stroke-width="0.2" text-anchor="middle" transform="translate(158.8,307.5) rotate(-90) scale(0.78,1)">100</text>
<text class="s" x="163.7" y="384.5" font-size="5.2" fill="#2e2e2e" stroke="#2e2e2e" stroke-width="0.2" text-anchor="middle">10<tspan font-size="3.6" dy="-2.4">0</tspan></text>
<text class="s" x="187.45" y="384.5" font-size="5.2" fill="#2e2e2e" stroke="#2e2e2e" stroke-width="0.2" text-anchor="middle">10<tspan font-size="3.6" dy="-2.4">1</tspan></text>
<text class="s" x="211.2" y="384.5" font-size="5.2" fill="#2e2e2e" stroke="#2e2e2e" stroke-width="0.2" text-anchor="middle">10<tspan font-size="3.6" dy="-2.4">2</tspan></text>
<text class="s" x="234.95" y="384.5" font-size="5.2" fill="#2e2e2e" stroke="#2e2e2e" stroke-width="0.2" text-anchor="middle">10<tspan font-size="3.6" dy="-2.4">3</tspan></text>
<text class="s" x="258.7" y="384.5" font-size="5.2" fill="#2e2e2e" stroke="#2e2e2e" stroke-width="0.2" text-anchor="middle">10<tspan font-size="3.6" dy="-2.4">4</tspan></text>
<path d="M163.5,313.5 H189.2 M189.2,309.6 v7.8" stroke="#3a3a3a" stroke-width="1" fill="none"/>
<path d="M163.5,309.5 v8" stroke="#222" stroke-width="1.2" fill="none"/>
<path d="M293,377.6 L293,376.7 L293.4,376.66 L293.8,376.62 L294.2,376.58 L294.6,376.53 L295,376.49 L295.4,376.45 L295.8,376.41 L296.2,376.54 L296.6,376.43 L297,376.41 L297.4,376.05 L297.8,375.98 L298.2,376.06 L298.6,376.2 L299,376.34 L299.4,375.82 L299.8,376.05 L300.2,375.8 L300.6,375.78 L301,375.82 L301.4,375.97 L301.8,375.83 L302.2,375.98 L302.6,375.52 L303,375.85 L303.4,375.81 L303.8,375.6 L304.2,375.64 L304.6,375.39 L305,375.24 L305.4,375.34 L305.8,375.25 L306.2,375.96 L306.6,375.19 L307,375.62 L307.4,375.26 L307.8,375.07 L308.2,374.78 L308.6,373.99 L309,374.05 L309.4,373.5 L309.8,372.43 L310.2,372.5 L310.6,371.91 L311,371.29 L311.4,371.13 L311.8,369.49 L312.2,368.15 L312.6,366.56 L313,364.01 L313.4,363.4 L313.8,359.07 L314.2,355.19 L314.6,352.53 L315,347.43 L315.4,344.23 L315.8,338.76 L316.2,336.12 L316.6,330.84 L317,328.35 L317.4,323.14 L317.8,321.92 L318.2,317.86 L318.6,315.4 L319,312.87 L319.4,310.73 L319.8,308 L320.2,308 L320.6,308.24 L321,308 L321.4,308 L321.8,308.71 L322.2,308.32 L322.6,312.18 L323,314.8 L323.4,316.75 L323.8,321.34 L324.2,324.15 L324.6,326.78 L325,329.95 L325.4,334.97 L325.8,336.8 L326.2,341.05 L326.6,344.07 L327,345.35 L327.4,349.18 L327.8,352.94 L328.2,355.91 L328.6,358.92 L329,361.64 L329.4,364.47 L329.8,366.22 L330.2,367.94 L330.6,369.99 L331,371.17 L331.4,373.29 L331.8,373.87 L332.2,374.78 L332.6,374.91 L333,374.86 L333.4,375.82 L333.8,376.02 L334.2,376.3 L334.6,376.13 L335,376.23 L335.4,376.55 L335.8,376.18 L336.2,375.75 L336.6,376.18 L337,376.13 L337.4,376.3 L337.8,376.26 L338.2,376.18 L338.6,376.2 L339,376.5 L339.4,376.11 L339.8,376.65 L340.2,376.26 L340.6,376.17 L341,376.47 L341.4,376.44 L341.8,376.19 L342.2,376.48 L342.6,376.07 L343,376.22 L343.4,376.55 L343.8,376.33 L344.2,376.17 L344.6,376.46 L345,376.52 L345.4,376.38 L345.8,376.1 L346.2,376.33 L346.6,376.46 L347,376.52 L347.4,376.69 L347.8,376.4 L348.2,376.4 L348.6,376.41 L349,376.41 L349.4,376.41 L349.8,376.42 L350.2,376.42 L350.6,376.42 L351,376.43 L351.4,376.43 L351.8,376.43 L352.2,376.43 L352.6,376.44 L353,376.44 L353.4,376.44 L353.8,376.45 L354.2,376.45 L354.6,376.45 L355,376.46 L355.4,376.46 L355.8,376.46 L356.2,376.47 L356.6,376.47 L357,376.47 L357.4,376.47 L357.8,376.48 L358.2,376.48 L358.6,376.48 L359,376.49 L359.4,376.49 L359.8,376.49 L360.2,376.5 L360.6,376.5 L361,376.5 L361.4,376.5 L361.8,376.51 L362.2,376.51 L362.6,376.51 L363,376.52 L363.4,376.52 L363.8,376.52 L364.2,376.53 L364.6,376.53 L365,376.53 L365.4,376.53 L365.8,376.54 L366.2,376.54 L366.6,376.54 L367,376.55 L367.4,376.55 L367.8,376.55 L368.2,376.56 L368.6,376.56 L369,376.56 L369.4,376.57 L369.8,376.57 L370.2,376.57 L370.6,376.57 L371,376.58 L371.4,376.58 L371.8,376.58 L372.2,376.59 L372.6,376.59 L373,376.59 L373.4,376.6 L373.8,376.6 L374.2,376.6 L374.6,376.6 L375,376.61 L375.4,376.61 L375.8,376.61 L376.2,376.62 L376.6,376.62 L377,376.62 L377.4,376.63 L377.8,376.63 L378.2,376.63 L378.6,376.63 L379,376.64 L379.4,376.64 L379.8,376.64 L380.2,376.65 L380.6,376.65 L381,376.65 L381.4,376.66 L381.8,376.66 L382.2,376.66 L382.6,376.67 L383,376.67 L383.4,376.67 L383.8,376.67 L384.2,376.68 L384.6,376.68 L385,376.68 L385.4,376.69 L385.8,376.69 L386.2,376.69 L386.6,376.7 L387,376.7 L387,376.7 L387,377.6 Z" fill="#1f1f1f"/>
<path d="M292.5,307.5 H387.5 V379.1" fill="none" stroke="#555" stroke-width="1"/>
<line x1="292.5" y1="307.5" x2="292.5" y2="377.6" stroke="#4a4a4a" stroke-width="1"/>
<line x1="292.5" y1="377.6" x2="387.5" y2="377.6" stroke="#111" stroke-width="1.3"/>
<path d="M292.3,307.5 h-1.6 M292.3,310.1 h-1.6 M292.3,312.69 h-1.6 M292.3,315.29 h-1.6 M292.3,317.89 h-1.6 M292.3,320.48 h-1.6 M292.3,323.08 h-1.6 M292.3,325.67 h-1.6 M292.3,328.27 h-1.6 M292.3,330.87 h-1.6 M292.3,333.46 h-1.6 M292.3,336.06 h-1.6 M292.3,338.66 h-1.6 M292.3,341.25 h-1.6 M292.3,343.85 h-1.6 M292.3,346.44 h-1.6 M292.3,349.04 h-1.6 M292.3,351.64 h-1.6 M292.3,354.23 h-1.6 M292.3,356.83 h-1.6 M292.3,359.43 h-1.6 M292.3,362.02 h-1.6 M292.3,364.62 h-1.6 M292.3,367.21 h-1.6 M292.3,369.81 h-1.6 M292.3,372.41 h-1.6 M292.3,375 h-1.6 M292.3,377.6 h-1.6" stroke="#3a3a3a" stroke-width="0.9" fill="none"/>
<path d="M292.5,378.1 v1.6 M299.65,378.1 v1.6 M303.83,378.1 v1.6 M306.8,378.1 v1.6 M309.1,378.1 v1.6 M310.98,378.1 v1.6 M312.57,378.1 v1.6 M313.95,378.1 v1.6 M315.16,378.1 v1.6 M316.25,378.1 v1.6 M323.4,378.1 v1.6 M327.58,378.1 v1.6 M330.55,378.1 v1.6 M332.85,378.1 v1.6 M334.73,378.1 v1.6 M336.32,378.1 v1.6 M337.7,378.1 v1.6 M338.91,378.1 v1.6 M340,378.1 v1.6 M347.15,378.1 v1.6 M351.33,378.1 v1.6 M354.3,378.1 v1.6 M356.6,378.1 v1.6 M358.48,378.1 v1.6 M360.07,378.1 v1.6 M361.45,378.1 v1.6 M362.66,378.1 v1.6 M363.75,378.1 v1.6 M370.9,378.1 v1.6 M375.08,378.1 v1.6 M378.05,378.1 v1.6 M380.35,378.1 v1.6 M382.23,378.1 v1.6 M383.82,378.1 v1.6 M385.2,378.1 v1.6 M386.41,378.1 v1.6" stroke="#444" stroke-width="0.7" fill="none"/>
<text class="s" x="0" y="0" font-size="4.7" fill="#2e2e2e" stroke="#2e2e2e" stroke-width="0.2" text-anchor="middle" transform="translate(287.8,377.6) rotate(-90) scale(0.78,1)">0</text>
<text class="s" x="0" y="0" font-size="4.7" fill="#2e2e2e" stroke="#2e2e2e" stroke-width="0.2" text-anchor="middle" transform="translate(287.8,363.58) rotate(-90) scale(0.78,1)">20</text>
<text class="s" x="0" y="0" font-size="4.7" fill="#2e2e2e" stroke="#2e2e2e" stroke-width="0.2" text-anchor="middle" transform="translate(287.8,349.56) rotate(-90) scale(0.78,1)">40</text>
<text class="s" x="0" y="0" font-size="4.7" fill="#2e2e2e" stroke="#2e2e2e" stroke-width="0.2" text-anchor="middle" transform="translate(287.8,335.54) rotate(-90) scale(0.78,1)">60</text>
<text class="s" x="0" y="0" font-size="4.7" fill="#2e2e2e" stroke="#2e2e2e" stroke-width="0.2" text-anchor="middle" transform="translate(287.8,321.52) rotate(-90) scale(0.78,1)">80</text>
<text class="s" x="0" y="0" font-size="4.7" fill="#2e2e2e" stroke="#2e2e2e" stroke-width="0.2" text-anchor="middle" transform="translate(287.8,307.5) rotate(-90) scale(0.78,1)">100</text>
<text class="s" x="292.7" y="384.8" font-size="5.2" fill="#2e2e2e" stroke="#2e2e2e" stroke-width="0.2" text-anchor="middle">10<tspan font-size="3.6" dy="-2.4">0</tspan></text>
<text class="s" x="316.45" y="384.8" font-size="5.2" fill="#2e2e2e" stroke="#2e2e2e" stroke-width="0.2" text-anchor="middle">10<tspan font-size="3.6" dy="-2.4">1</tspan></text>
<text class="s" x="340.2" y="384.8" font-size="5.2" fill="#2e2e2e" stroke="#2e2e2e" stroke-width="0.2" text-anchor="middle">10<tspan font-size="3.6" dy="-2.4">2</tspan></text>
<text class="s" x="363.95" y="384.8" font-size="5.2" fill="#2e2e2e" stroke="#2e2e2e" stroke-width="0.2" text-anchor="middle">10<tspan font-size="3.6" dy="-2.4">3</tspan></text>
<text class="s" x="387.7" y="384.8" font-size="5.2" fill="#2e2e2e" stroke="#2e2e2e" stroke-width="0.2" text-anchor="middle">10<tspan font-size="3.6" dy="-2.4">4</tspan></text>
<path d="M292.5,314.5 H317.8 M317.8,310.6 v7.8" stroke="#3a3a3a" stroke-width="1" fill="none"/>
<path d="M292.5,310.5 v8" stroke="#222" stroke-width="1.2" fill="none"/>
<path d="M420.5,377 L420.5,376.8 L420.9,376.77 L421.3,376.75 L421.7,376.72 L422.1,376.69 L422.5,376.67 L422.9,376.64 L423.3,376.62 L423.7,376.59 L424.1,376.56 L424.5,376.54 L424.9,376.51 L425.3,376.49 L425.7,376.46 L426.1,376.43 L426.5,376.41 L426.9,376.38 L427.3,376.36 L427.7,376.33 L428.1,376.3 L428.5,376.28 L428.9,376.25 L429.3,376.23 L429.7,376.2 L430.1,376.17 L430.5,376.15 L430.9,376.12 L431.3,376.09 L431.7,376.07 L432.1,376.04 L432.5,376.02 L432.9,375.99 L433.3,375.96 L433.7,375.94 L434.1,375.91 L434.5,375.89 L434.9,375.86 L435.3,375.83 L435.7,375.81 L436.1,375.73 L436.5,375.65 L436.9,375.72 L437.3,375.96 L437.7,375.32 L438.1,375.56 L438.5,374.18 L438.9,374.86 L439.3,374.11 L439.7,374.17 L440.1,373.95 L440.5,372.98 L440.9,373.07 L441.3,372.89 L441.7,372.7 L442.1,371.67 L442.5,371.23 L442.9,370.38 L443.3,372.05 L443.7,370.36 L444.1,369.94 L444.5,368.88 L444.9,369.74 L445.3,368.55 L445.7,369.24 L446.1,368.13 L446.5,366.84 L446.9,366.48 L447.3,364.49 L447.7,364.19 L448.1,363.2 L448.5,361.89 L448.9,362.11 L449.3,361.58 L449.7,362.37 L450.1,358.33 L450.5,359.96 L450.9,359.36 L451.3,358.05 L451.7,357.13 L452.1,355.48 L452.5,353.5 L452.9,351.37 L453.3,351.3 L453.7,350.18 L454.1,346.97 L454.5,347.56 L454.9,345.4 L455.3,343.32 L455.7,342.11 L456.1,339.37 L456.5,337.02 L456.9,334.11 L457.3,333.22 L457.7,330.6 L458.1,330.56 L458.5,326.01 L458.9,327.32 L459.3,328.1 L459.7,326.79 L460.1,328.73 L460.5,329.26 L460.9,331.69 L461.3,334.64 L461.7,333.85 L462.1,331.04 L462.5,332.93 L462.9,333.5 L463.3,336.31 L463.7,336.28 L464.1,337.23 L464.5,340.02 L464.9,339.31 L465.3,341.68 L465.7,347.09 L466.1,347.7 L466.5,348.93 L466.9,349.43 L467.3,351.63 L467.7,352.53 L468.1,356.45 L468.5,358.1 L468.9,360.42 L469.3,361.11 L469.7,362.29 L470.1,363.86 L470.5,367.13 L470.9,365.97 L471.3,368.06 L471.7,368.91 L472.1,370.15 L472.5,370.58 L472.9,371.92 L473.3,372.96 L473.7,373.52 L474.1,373.73 L474.5,374.13 L474.9,374.2 L475.3,374.74 L475.7,375.02 L476.1,375.45 L476.5,376 L476.9,376.01 L477.3,376.32 L477.7,376.62 L478.1,376.7 L478.5,376.7 L478.9,376.7 L479.3,376.7 L479.7,376.7 L480.1,376.71 L480.5,376.71 L480.9,376.71 L481.3,376.71 L481.7,376.71 L482.1,376.71 L482.5,376.71 L482.9,376.71 L483.3,376.72 L483.7,376.72 L484.1,376.72 L484.5,376.72 L484.9,376.72 L485.3,376.72 L485.7,376.72 L486.1,376.72 L486.5,376.73 L486.9,376.73 L487.3,376.73 L487.7,376.73 L488.1,376.73 L488.5,376.73 L488.9,376.73 L489.3,376.74 L489.7,376.74 L490.1,376.74 L490.5,376.74 L490.9,376.74 L491.3,376.74 L491.7,376.74 L492.1,376.74 L492.5,376.75 L492.9,376.75 L493.3,376.75 L493.7,376.75 L494.1,376.75 L494.5,376.75 L494.9,376.75 L495.3,376.75 L495.7,376.76 L496.1,376.76 L496.5,376.76 L496.9,376.76 L497.3,376.76 L497.7,376.76 L498.1,376.76 L498.5,376.77 L498.9,376.77 L499.3,376.77 L499.7,376.77 L500.1,376.77 L500.5,376.77 L500.9,376.77 L501.3,376.77 L501.7,376.78 L502.1,376.78 L502.5,376.78 L502.9,376.78 L503.3,376.78 L503.7,376.78 L504.1,376.78 L504.5,376.78 L504.9,376.79 L505.3,376.79 L505.7,376.79 L506.1,376.79 L506.5,376.79 L506.9,376.79 L507.3,376.79 L507.7,376.79 L508.1,376.8 L508.5,376.8 L508.8,376.8 L508.8,377 Z" fill="#1f1f1f"/>
<path d="M420.5,307.5 H509.5 V378.5" fill="none" stroke="#555" stroke-width="1"/>
<line x1="420.5" y1="307.5" x2="420.5" y2="377" stroke="#4a4a4a" stroke-width="1"/>
<line x1="420.5" y1="377" x2="509.5" y2="377" stroke="#111" stroke-width="1.3"/>
<path d="M420.3,307.5 h-1.6 M420.3,310.07 h-1.6 M420.3,312.65 h-1.6 M420.3,315.22 h-1.6 M420.3,317.8 h-1.6 M420.3,320.37 h-1.6 M420.3,322.94 h-1.6 M420.3,325.52 h-1.6 M420.3,328.09 h-1.6 M420.3,330.67 h-1.6 M420.3,333.24 h-1.6 M420.3,335.81 h-1.6 M420.3,338.39 h-1.6 M420.3,340.96 h-1.6 M420.3,343.54 h-1.6 M420.3,346.11 h-1.6 M420.3,348.69 h-1.6 M420.3,351.26 h-1.6 M420.3,353.83 h-1.6 M420.3,356.41 h-1.6 M420.3,358.98 h-1.6 M420.3,361.56 h-1.6 M420.3,364.13 h-1.6 M420.3,366.7 h-1.6 M420.3,369.28 h-1.6 M420.3,371.85 h-1.6 M420.3,374.43 h-1.6 M420.3,377 h-1.6" stroke="#3a3a3a" stroke-width="0.9" fill="none"/>
<path d="M420.5,377.5 v1.6 M427.2,377.5 v1.6 M431.12,377.5 v1.6 M433.9,377.5 v1.6 M436.05,377.5 v1.6 M437.81,377.5 v1.6 M439.3,377.5 v1.6 M440.59,377.5 v1.6 M441.73,377.5 v1.6 M442.75,377.5 v1.6 M449.45,377.5 v1.6 M453.37,377.5 v1.6 M456.15,377.5 v1.6 M458.3,377.5 v1.6 M460.06,377.5 v1.6 M461.55,377.5 v1.6 M462.84,377.5 v1.6 M463.98,377.5 v1.6 M465,377.5 v1.6 M471.7,377.5 v1.6 M475.62,377.5 v1.6 M478.4,377.5 v1.6 M480.55,377.5 v1.6 M482.31,377.5 v1.6 M483.8,377.5 v1.6 M485.09,377.5 v1.6 M486.23,377.5 v1.6 M487.25,377.5 v1.6 M493.95,377.5 v1.6 M497.87,377.5 v1.6 M500.65,377.5 v1.6 M502.8,377.5 v1.6 M504.56,377.5 v1.6 M506.05,377.5 v1.6 M507.34,377.5 v1.6 M508.48,377.5 v1.6" stroke="#444" stroke-width="0.7" fill="none"/>
<text class="s" x="0" y="0" font-size="4.7" fill="#2e2e2e" stroke="#2e2e2e" stroke-width="0.2" text-anchor="middle" transform="translate(415.8,377) rotate(-90) scale(0.78,1)">0</text>
<text class="s" x="0" y="0" font-size="4.7" fill="#2e2e2e" stroke="#2e2e2e" stroke-width="0.2" text-anchor="middle" transform="translate(415.8,363.1) rotate(-90) scale(0.78,1)">20</text>
<text class="s" x="0" y="0" font-size="4.7" fill="#2e2e2e" stroke="#2e2e2e" stroke-width="0.2" text-anchor="middle" transform="translate(415.8,349.2) rotate(-90) scale(0.78,1)">40</text>
<text class="s" x="0" y="0" font-size="4.7" fill="#2e2e2e" stroke="#2e2e2e" stroke-width="0.2" text-anchor="middle" transform="translate(415.8,335.3) rotate(-90) scale(0.78,1)">60</text>
<text class="s" x="0" y="0" font-size="4.7" fill="#2e2e2e" stroke="#2e2e2e" stroke-width="0.2" text-anchor="middle" transform="translate(415.8,321.4) rotate(-90) scale(0.78,1)">80</text>
<text class="s" x="0" y="0" font-size="4.7" fill="#2e2e2e" stroke="#2e2e2e" stroke-width="0.2" text-anchor="middle" transform="translate(415.8,307.5) rotate(-90) scale(0.78,1)">100</text>
<text class="s" x="420.7" y="384.2" font-size="5.2" fill="#2e2e2e" stroke="#2e2e2e" stroke-width="0.2" text-anchor="middle">10<tspan font-size="3.6" dy="-2.4">0</tspan></text>
<text class="s" x="442.95" y="384.2" font-size="5.2" fill="#2e2e2e" stroke="#2e2e2e" stroke-width="0.2" text-anchor="middle">10<tspan font-size="3.6" dy="-2.4">1</tspan></text>
<text class="s" x="465.2" y="384.2" font-size="5.2" fill="#2e2e2e" stroke="#2e2e2e" stroke-width="0.2" text-anchor="middle">10<tspan font-size="3.6" dy="-2.4">2</tspan></text>
<text class="s" x="487.45" y="384.2" font-size="5.2" fill="#2e2e2e" stroke="#2e2e2e" stroke-width="0.2" text-anchor="middle">10<tspan font-size="3.6" dy="-2.4">3</tspan></text>
<text class="s" x="509.7" y="384.2" font-size="5.2" fill="#2e2e2e" stroke="#2e2e2e" stroke-width="0.2" text-anchor="middle">10<tspan font-size="3.6" dy="-2.4">4</tspan></text>
<path d="M420.5,314.5 H442.5 M442.5,310.6 v7.8" stroke="#3a3a3a" stroke-width="1" fill="none"/>
<path d="M420.5,310.5 v8" stroke="#222" stroke-width="1.2" fill="none"/>
</g>
<text class="s" x="48.3" y="18.2" font-size="4.2" fill="#333" stroke="#333" stroke-width="0.3" text-anchor="middle" letter-spacing="0.8">M1</text>
<text x="122.4" y="17.4" font-size="11.5" fill="#111" stroke="#111" stroke-width="0.28" text-anchor="end" class="s">HC</text>
<text x="96" y="17.4" font-size="13" fill="#111" stroke="#111" stroke-width="0.2" class="r">μ</text>
<text class="s" x="177.2" y="18" font-size="4.2" fill="#333" stroke="#333" stroke-width="0.3" text-anchor="middle" letter-spacing="0.8">M1</text>
<text x="252.5" y="17.9" font-size="11.5" fill="#111" stroke="#111" stroke-width="0.28" text-anchor="end" class="s">LC</text>
<text x="227.8" y="17.9" font-size="13" fill="#111" stroke="#111" stroke-width="0.2" class="r">ψ</text>
<text class="s" x="312.3" y="17.6" font-size="4.2" fill="#333" stroke="#333" stroke-width="0.3" text-anchor="middle" letter-spacing="0.8">M1</text>
<text x="382.5" y="17.4" font-size="11.5" fill="#111" stroke="#111" stroke-width="0.28" text-anchor="end" class="s">LC</text>
<text x="358.6" y="17.4" font-size="13" fill="#111" stroke="#111" stroke-width="0.2" class="r">κ</text>
<text class="s" x="437.8" y="16" font-size="4.2" fill="#333" stroke="#333" stroke-width="0.3" text-anchor="middle" letter-spacing="0.8">M1</text>
<text x="510.4" y="17.4" font-size="11.5" fill="#111" stroke="#111" stroke-width="0.28" text-anchor="end" class="s">LC</text>
<text x="486.3" y="17.4" font-size="13" fill="#111" stroke="#111" stroke-width="0.2" class="r">λ</text>
<text class="s" x="53.7" y="119" font-size="4.2" fill="#333" stroke="#333" stroke-width="0.3" text-anchor="middle" letter-spacing="0.8">M1</text>
<text x="124.8" y="119.4" font-size="11.5" fill="#111" stroke="#111" stroke-width="0.28" text-anchor="end" class="s">CD7</text>
<text class="s" x="181.6" y="120.3" font-size="4.2" fill="#333" stroke="#333" stroke-width="0.3" text-anchor="middle" letter-spacing="0.8">M1</text>
<text x="255" y="118.6" font-size="11.5" fill="#111" stroke="#111" stroke-width="0.28" text-anchor="end" class="s">CD10</text>
<text class="s" x="310.8" y="119" font-size="4.2" fill="#333" stroke="#333" stroke-width="0.3" text-anchor="middle" letter-spacing="0.8">M1</text>
<text x="383.5" y="118.8" font-size="11.5" fill="#111" stroke="#111" stroke-width="0.28" text-anchor="end" class="s">CD19</text>
<text class="s" x="437.7" y="113.5" font-size="4.2" fill="#333" stroke="#333" stroke-width="0.3" text-anchor="middle" letter-spacing="0.8">M1</text>
<text x="512.3" y="119.1" font-size="11.5" fill="#111" stroke="#111" stroke-width="0.28" text-anchor="end" class="s">CD20</text>
<text class="s" x="49.8" y="218.4" font-size="4.2" fill="#333" stroke="#333" stroke-width="0.3" text-anchor="middle" letter-spacing="0.8">M1</text>
<text x="123.5" y="219.6" font-size="11.5" fill="#111" stroke="#111" stroke-width="0.28" text-anchor="end" class="s">CD21</text>
<text class="s" x="181.8" y="219.9" font-size="4.2" fill="#333" stroke="#333" stroke-width="0.3" text-anchor="middle" letter-spacing="0.8">M1</text>
<text x="225" y="219.4" font-size="11.5" fill="#111" stroke="#111" stroke-width="0.28" text-anchor="end" class="s">CD22</text>
<text class="s" x="308.5" y="217.3" font-size="4.2" fill="#333" stroke="#333" stroke-width="0.3" text-anchor="middle" letter-spacing="0.8">M1</text>
<text x="382.7" y="219.2" font-size="11.5" fill="#111" stroke="#111" stroke-width="0.28" text-anchor="end" class="s">CD34</text>
<text class="s" x="439.8" y="219.9" font-size="4.2" fill="#333" stroke="#333" stroke-width="0.3" text-anchor="middle" letter-spacing="0.8">M1</text>
<text x="510.3" y="221.3" font-size="11.5" fill="#111" stroke="#111" stroke-width="0.28" text-anchor="end" class="s">CD38</text>
<text class="s" x="54.4" y="320.9" font-size="4.2" fill="#333" stroke="#333" stroke-width="0.3" text-anchor="middle" letter-spacing="0.8">M1</text>
<text x="125.9" y="321.2" font-size="11.5" fill="#111" stroke="#111" stroke-width="0.28" text-anchor="end" class="s">CD40</text>
<text class="s" x="180.2" y="319.1" font-size="4.2" fill="#333" stroke="#333" stroke-width="0.3" text-anchor="middle" letter-spacing="0.8">M1</text>
<text x="253.6" y="321.3" font-size="11.5" fill="#111" stroke="#111" stroke-width="0.28" text-anchor="end" class="s">CD49d</text>
<text class="s" x="307.3" y="319.7" font-size="4.2" fill="#333" stroke="#333" stroke-width="0.3" text-anchor="middle" letter-spacing="0.8">M1</text>
<text x="384" y="321" font-size="11.5" fill="#111" stroke="#111" stroke-width="0.28" text-anchor="end" class="s">CD49e</text>
<text class="s" x="436.6" y="319.4" font-size="4.2" fill="#333" stroke="#333" stroke-width="0.3" text-anchor="middle" letter-spacing="0.8">M1</text>
<text x="492.2" y="320.6" font-size="11.5" fill="#111" stroke="#111" stroke-width="0.28" text-anchor="end" class="s">MHC</text>
<text x="494.2" y="320.6" font-size="13.2" fill="#111" stroke="#111" stroke-width="0.2" class="r" letter-spacing="0.2">II</text>
<text class="s" x="0" y="0" font-size="15" fill="#111" stroke="#111" stroke-width="0.1" text-anchor="middle" transform="translate(12,184.2) rotate(-90)">Cell Number</text>
<text class="s" x="272" y="412.2" font-size="15" fill="#111" stroke="#111" stroke-width="0.1" text-anchor="middle">Fluorescence</text>
</svg></body></html>
